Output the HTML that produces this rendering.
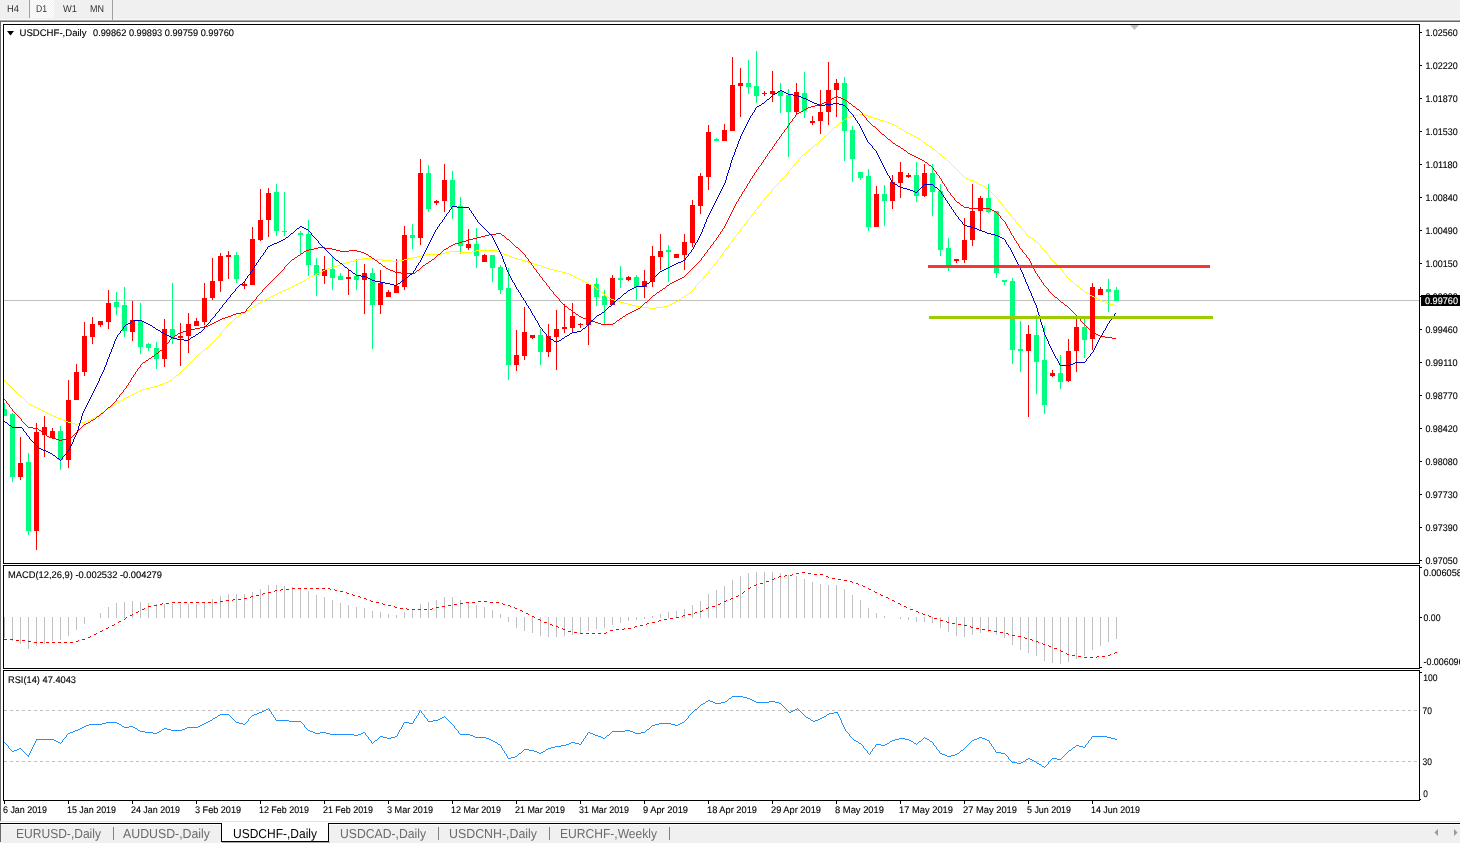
<!DOCTYPE html>
<html><head><meta charset="utf-8"><title>USDCHF-,Daily</title>
<style>
html,body{margin:0;padding:0;background:#fff;}
body{width:1460px;height:843px;overflow:hidden;position:relative;font-family:"Liberation Sans",sans-serif;}
svg{position:absolute;left:0;top:0;display:block}
text{font-family:"Liberation Sans",sans-serif;text-rendering:geometricPrecision;}
.ax{font-size:9.6px;fill:#000;stroke:#000;stroke-width:0.12px}
.tb{font-size:10px;fill:#333}
.tab{font-size:13px;fill:#6b6b6b}
.taba{font-size:13px;fill:#000}
</style></head><body>
<svg width="1460" height="843" viewBox="0 0 1460 843">

<rect x="0" y="0" width="1460" height="843" fill="#fff"/>
<rect x="0" y="0" width="1460" height="20" fill="#f0f0f0"/>
<rect x="0" y="19" width="1460" height="1" fill="#f8f8f8"/>
<rect x="0" y="20" width="1460" height="1" fill="#a8a8a8"/>
<rect x="0" y="21" width="1460" height="1" fill="#696969"/>
<rect x="0" y="21" width="1" height="800" fill="#696969"/>
<defs><pattern id="chk" width="2" height="2" patternUnits="userSpaceOnUse"><rect width="2" height="2" fill="#f0f0f0"/><rect width="1" height="1" fill="#fff"/><rect x="1" y="1" width="1" height="1" fill="#fff"/></pattern></defs>
<rect x="30" y="0" width="24" height="18" fill="url(#chk)" shape-rendering="crispEdges"/>
<rect x="29" y="0" width="1" height="18" fill="#a0a0a0"/>
<rect x="112" y="0" width="1" height="20" fill="#a0a0a0"/>
<text class="tb" x="7" y="12" textLength="12" lengthAdjust="spacingAndGlyphs">H4</text>
<text class="tb" x="36" y="12" textLength="11" lengthAdjust="spacingAndGlyphs">D1</text>
<text class="tb" x="63" y="12" textLength="14" lengthAdjust="spacingAndGlyphs">W1</text>
<text class="tb" x="90" y="12" textLength="14" lengthAdjust="spacingAndGlyphs">MN</text>
<g shape-rendering="crispEdges">
<rect x="3" y="24" width="1417" height="1" fill="#000"/>
<rect x="3" y="24" width="1" height="777" fill="#000"/>
<rect x="1419" y="24" width="1" height="777" fill="#000"/>
<rect x="3" y="563" width="1417" height="1" fill="#000"/>
<rect x="3" y="564" width="1417" height="1" fill="#fff"/>
<rect x="3" y="565" width="1417" height="1" fill="#000"/>
<rect x="3" y="668" width="1417" height="1" fill="#000"/>
<rect x="3" y="669" width="1417" height="1" fill="#fff"/>
<rect x="3" y="670" width="1417" height="1" fill="#000"/>
<rect x="3" y="800" width="1417" height="1" fill="#000"/>
<polygon points="1130,25 1139,25 1134.5,30" fill="#c0c0c0" shape-rendering="auto"/>
<polygon points="7,31 14,31 10.5,35.5" fill="#000" shape-rendering="auto"/>
<rect x="4" y="300" width="1415" height="1" fill="#c0c0c0"/>
<line x1="4" y1="710.5" x2="1419" y2="710.5" stroke="#c0c0c0" stroke-width="1" stroke-dasharray="3 3"/>
<line x1="4" y1="761.5" x2="1419" y2="761.5" stroke="#c0c0c0" stroke-width="1" stroke-dasharray="3 3"/>
<rect x="4" y="617" width="1" height="21" fill="#c0c0c0"/>
<rect x="12" y="617" width="1" height="24" fill="#c0c0c0"/>
<rect x="20" y="617" width="1" height="27" fill="#c0c0c0"/>
<rect x="28" y="617" width="1" height="32" fill="#c0c0c0"/>
<rect x="36" y="617" width="1" height="29" fill="#c0c0c0"/>
<rect x="44" y="617" width="1" height="27" fill="#c0c0c0"/>
<rect x="52" y="617" width="1" height="24" fill="#c0c0c0"/>
<rect x="60" y="617" width="1" height="23" fill="#c0c0c0"/>
<rect x="68" y="617" width="1" height="19" fill="#c0c0c0"/>
<rect x="76" y="617" width="1" height="13" fill="#c0c0c0"/>
<rect x="84" y="617" width="1" height="7" fill="#c0c0c0"/>
<rect x="100" y="613" width="1" height="5" fill="#c0c0c0"/>
<rect x="108" y="607" width="1" height="11" fill="#c0c0c0"/>
<rect x="116" y="603" width="1" height="15" fill="#c0c0c0"/>
<rect x="124" y="602" width="1" height="16" fill="#c0c0c0"/>
<rect x="132" y="601" width="1" height="17" fill="#c0c0c0"/>
<rect x="140" y="602" width="1" height="16" fill="#c0c0c0"/>
<rect x="148" y="603" width="1" height="15" fill="#c0c0c0"/>
<rect x="156" y="604" width="1" height="14" fill="#c0c0c0"/>
<rect x="164" y="604" width="1" height="14" fill="#c0c0c0"/>
<rect x="172" y="604" width="1" height="14" fill="#c0c0c0"/>
<rect x="180" y="604" width="1" height="14" fill="#c0c0c0"/>
<rect x="188" y="604" width="1" height="14" fill="#c0c0c0"/>
<rect x="196" y="604" width="1" height="14" fill="#c0c0c0"/>
<rect x="204" y="602" width="1" height="16" fill="#c0c0c0"/>
<rect x="212" y="599" width="1" height="19" fill="#c0c0c0"/>
<rect x="220" y="596" width="1" height="22" fill="#c0c0c0"/>
<rect x="228" y="594" width="1" height="24" fill="#c0c0c0"/>
<rect x="236" y="594" width="1" height="24" fill="#c0c0c0"/>
<rect x="244" y="594" width="1" height="24" fill="#c0c0c0"/>
<rect x="252" y="592" width="1" height="26" fill="#c0c0c0"/>
<rect x="260" y="589" width="1" height="29" fill="#c0c0c0"/>
<rect x="268" y="585" width="1" height="33" fill="#c0c0c0"/>
<rect x="276" y="585" width="1" height="33" fill="#c0c0c0"/>
<rect x="284" y="586" width="1" height="32" fill="#c0c0c0"/>
<rect x="292" y="587" width="1" height="31" fill="#c0c0c0"/>
<rect x="300" y="589" width="1" height="29" fill="#c0c0c0"/>
<rect x="308" y="591" width="1" height="27" fill="#c0c0c0"/>
<rect x="316" y="595" width="1" height="23" fill="#c0c0c0"/>
<rect x="324" y="597" width="1" height="21" fill="#c0c0c0"/>
<rect x="332" y="600" width="1" height="18" fill="#c0c0c0"/>
<rect x="340" y="603" width="1" height="15" fill="#c0c0c0"/>
<rect x="348" y="605" width="1" height="13" fill="#c0c0c0"/>
<rect x="356" y="607" width="1" height="11" fill="#c0c0c0"/>
<rect x="364" y="608" width="1" height="10" fill="#c0c0c0"/>
<rect x="372" y="611" width="1" height="7" fill="#c0c0c0"/>
<rect x="380" y="612" width="1" height="6" fill="#c0c0c0"/>
<rect x="388" y="614" width="1" height="4" fill="#c0c0c0"/>
<rect x="396" y="615" width="1" height="3" fill="#c0c0c0"/>
<rect x="404" y="612" width="1" height="6" fill="#c0c0c0"/>
<rect x="412" y="610" width="1" height="8" fill="#c0c0c0"/>
<rect x="420" y="604" width="1" height="14" fill="#c0c0c0"/>
<rect x="428" y="602" width="1" height="16" fill="#c0c0c0"/>
<rect x="436" y="600" width="1" height="18" fill="#c0c0c0"/>
<rect x="444" y="597" width="1" height="21" fill="#c0c0c0"/>
<rect x="452" y="597" width="1" height="21" fill="#c0c0c0"/>
<rect x="460" y="600" width="1" height="18" fill="#c0c0c0"/>
<rect x="468" y="603" width="1" height="15" fill="#c0c0c0"/>
<rect x="476" y="605" width="1" height="13" fill="#c0c0c0"/>
<rect x="484" y="607" width="1" height="11" fill="#c0c0c0"/>
<rect x="492" y="610" width="1" height="8" fill="#c0c0c0"/>
<rect x="500" y="614" width="1" height="4" fill="#c0c0c0"/>
<rect x="508" y="617" width="1" height="5" fill="#c0c0c0"/>
<rect x="516" y="617" width="1" height="11" fill="#c0c0c0"/>
<rect x="524" y="617" width="1" height="14" fill="#c0c0c0"/>
<rect x="532" y="617" width="1" height="16" fill="#c0c0c0"/>
<rect x="540" y="617" width="1" height="19" fill="#c0c0c0"/>
<rect x="548" y="617" width="1" height="20" fill="#c0c0c0"/>
<rect x="556" y="617" width="1" height="20" fill="#c0c0c0"/>
<rect x="564" y="617" width="1" height="19" fill="#c0c0c0"/>
<rect x="572" y="617" width="1" height="18" fill="#c0c0c0"/>
<rect x="580" y="617" width="1" height="16" fill="#c0c0c0"/>
<rect x="588" y="617" width="1" height="14" fill="#c0c0c0"/>
<rect x="596" y="617" width="1" height="12" fill="#c0c0c0"/>
<rect x="604" y="617" width="1" height="11" fill="#c0c0c0"/>
<rect x="612" y="617" width="1" height="8" fill="#c0c0c0"/>
<rect x="620" y="617" width="1" height="6" fill="#c0c0c0"/>
<rect x="628" y="617" width="1" height="4" fill="#c0c0c0"/>
<rect x="636" y="617" width="1" height="3" fill="#c0c0c0"/>
<rect x="644" y="617" width="1" height="2" fill="#c0c0c0"/>
<rect x="652" y="616" width="1" height="2" fill="#c0c0c0"/>
<rect x="660" y="614" width="1" height="4" fill="#c0c0c0"/>
<rect x="668" y="612" width="1" height="6" fill="#c0c0c0"/>
<rect x="676" y="611" width="1" height="7" fill="#c0c0c0"/>
<rect x="684" y="609" width="1" height="9" fill="#c0c0c0"/>
<rect x="692" y="605" width="1" height="13" fill="#c0c0c0"/>
<rect x="700" y="601" width="1" height="17" fill="#c0c0c0"/>
<rect x="708" y="594" width="1" height="24" fill="#c0c0c0"/>
<rect x="716" y="590" width="1" height="28" fill="#c0c0c0"/>
<rect x="724" y="586" width="1" height="32" fill="#c0c0c0"/>
<rect x="732" y="580" width="1" height="38" fill="#c0c0c0"/>
<rect x="740" y="576" width="1" height="42" fill="#c0c0c0"/>
<rect x="748" y="573" width="1" height="45" fill="#c0c0c0"/>
<rect x="756" y="572" width="1" height="46" fill="#c0c0c0"/>
<rect x="764" y="572" width="1" height="46" fill="#c0c0c0"/>
<rect x="772" y="572" width="1" height="46" fill="#c0c0c0"/>
<rect x="780" y="573" width="1" height="45" fill="#c0c0c0"/>
<rect x="788" y="575" width="1" height="43" fill="#c0c0c0"/>
<rect x="796" y="576" width="1" height="42" fill="#c0c0c0"/>
<rect x="804" y="579" width="1" height="39" fill="#c0c0c0"/>
<rect x="812" y="582" width="1" height="36" fill="#c0c0c0"/>
<rect x="820" y="584" width="1" height="34" fill="#c0c0c0"/>
<rect x="828" y="585" width="1" height="33" fill="#c0c0c0"/>
<rect x="836" y="585" width="1" height="33" fill="#c0c0c0"/>
<rect x="844" y="589" width="1" height="29" fill="#c0c0c0"/>
<rect x="852" y="595" width="1" height="23" fill="#c0c0c0"/>
<rect x="860" y="600" width="1" height="18" fill="#c0c0c0"/>
<rect x="868" y="608" width="1" height="10" fill="#c0c0c0"/>
<rect x="876" y="613" width="1" height="5" fill="#c0c0c0"/>
<rect x="884" y="616" width="1" height="2" fill="#c0c0c0"/>
<rect x="900" y="617" width="1" height="2" fill="#c0c0c0"/>
<rect x="908" y="617" width="1" height="3" fill="#c0c0c0"/>
<rect x="916" y="617" width="1" height="5" fill="#c0c0c0"/>
<rect x="924" y="617" width="1" height="5" fill="#c0c0c0"/>
<rect x="932" y="617" width="1" height="6" fill="#c0c0c0"/>
<rect x="940" y="617" width="1" height="11" fill="#c0c0c0"/>
<rect x="948" y="617" width="1" height="15" fill="#c0c0c0"/>
<rect x="956" y="617" width="1" height="19" fill="#c0c0c0"/>
<rect x="964" y="617" width="1" height="20" fill="#c0c0c0"/>
<rect x="972" y="617" width="1" height="18" fill="#c0c0c0"/>
<rect x="980" y="617" width="1" height="16" fill="#c0c0c0"/>
<rect x="988" y="617" width="1" height="15" fill="#c0c0c0"/>
<rect x="996" y="617" width="1" height="18" fill="#c0c0c0"/>
<rect x="1004" y="617" width="1" height="21" fill="#c0c0c0"/>
<rect x="1012" y="617" width="1" height="28" fill="#c0c0c0"/>
<rect x="1020" y="617" width="1" height="33" fill="#c0c0c0"/>
<rect x="1028" y="617" width="1" height="36" fill="#c0c0c0"/>
<rect x="1036" y="617" width="1" height="39" fill="#c0c0c0"/>
<rect x="1044" y="617" width="1" height="44" fill="#c0c0c0"/>
<rect x="1052" y="617" width="1" height="46" fill="#c0c0c0"/>
<rect x="1060" y="617" width="1" height="47" fill="#c0c0c0"/>
<rect x="1068" y="617" width="1" height="45" fill="#c0c0c0"/>
<rect x="1076" y="617" width="1" height="42" fill="#c0c0c0"/>
<rect x="1084" y="617" width="1" height="39" fill="#c0c0c0"/>
<rect x="1092" y="617" width="1" height="33" fill="#c0c0c0"/>
<rect x="1100" y="617" width="1" height="29" fill="#c0c0c0"/>
<rect x="1108" y="617" width="1" height="25" fill="#c0c0c0"/>
<rect x="1116" y="617" width="1" height="22" fill="#c0c0c0"/>
<rect x="4" y="403" width="1" height="13" fill="#00ff7f"/>
<rect x="4" y="409" width="3" height="7" fill="#00ff7f"/>
<rect x="12" y="413" width="1" height="69" fill="#00ff7f"/>
<rect x="10" y="414" width="5" height="63" fill="#00ff7f"/>
<rect x="20" y="437" width="1" height="43" fill="#ff0000"/>
<rect x="18" y="463" width="5" height="14" fill="#ff0000"/>
<rect x="28" y="453" width="1" height="82" fill="#00ff7f"/>
<rect x="26" y="462" width="5" height="69" fill="#00ff7f"/>
<rect x="36" y="423" width="1" height="127" fill="#ff0000"/>
<rect x="34" y="432" width="5" height="99" fill="#ff0000"/>
<rect x="44" y="416" width="1" height="41" fill="#ff0000"/>
<rect x="42" y="427" width="5" height="8" fill="#ff0000"/>
<rect x="52" y="428" width="1" height="10" fill="#ff0000"/>
<rect x="50" y="431" width="5" height="7" fill="#ff0000"/>
<rect x="60" y="426" width="1" height="44" fill="#00ff7f"/>
<rect x="58" y="431" width="5" height="29" fill="#00ff7f"/>
<rect x="68" y="380" width="1" height="88" fill="#ff0000"/>
<rect x="66" y="400" width="5" height="60" fill="#ff0000"/>
<rect x="76" y="364" width="1" height="36" fill="#ff0000"/>
<rect x="74" y="372" width="5" height="28" fill="#ff0000"/>
<rect x="84" y="322" width="1" height="54" fill="#ff0000"/>
<rect x="82" y="336" width="5" height="36" fill="#ff0000"/>
<rect x="92" y="317" width="1" height="27" fill="#ff0000"/>
<rect x="90" y="324" width="5" height="13" fill="#ff0000"/>
<rect x="100" y="321" width="1" height="6" fill="#ff0000"/>
<rect x="98" y="321" width="5" height="4" fill="#ff0000"/>
<rect x="108" y="290" width="1" height="39" fill="#ff0000"/>
<rect x="106" y="303" width="5" height="19" fill="#ff0000"/>
<rect x="116" y="292" width="1" height="23" fill="#00ff7f"/>
<rect x="114" y="302" width="5" height="5" fill="#00ff7f"/>
<rect x="124" y="287" width="1" height="50" fill="#00ff7f"/>
<rect x="122" y="305" width="5" height="26" fill="#00ff7f"/>
<rect x="132" y="301" width="1" height="40" fill="#ff0000"/>
<rect x="130" y="320" width="5" height="12" fill="#ff0000"/>
<rect x="140" y="303" width="1" height="51" fill="#00ff7f"/>
<rect x="138" y="321" width="5" height="26" fill="#00ff7f"/>
<rect x="148" y="343" width="1" height="8" fill="#00ff7f"/>
<rect x="146" y="344" width="5" height="4" fill="#00ff7f"/>
<rect x="156" y="342" width="1" height="27" fill="#00ff7f"/>
<rect x="154" y="348" width="5" height="11" fill="#00ff7f"/>
<rect x="164" y="319" width="1" height="48" fill="#ff0000"/>
<rect x="162" y="329" width="5" height="30" fill="#ff0000"/>
<rect x="172" y="283" width="1" height="61" fill="#00ff7f"/>
<rect x="170" y="329" width="5" height="9" fill="#00ff7f"/>
<rect x="180" y="323" width="1" height="43" fill="#ff0000"/>
<rect x="178" y="336" width="5" height="2" fill="#ff0000"/>
<rect x="188" y="313" width="1" height="40" fill="#ff0000"/>
<rect x="186" y="324" width="5" height="12" fill="#ff0000"/>
<rect x="196" y="318" width="1" height="8" fill="#ff0000"/>
<rect x="194" y="321" width="5" height="5" fill="#ff0000"/>
<rect x="204" y="283" width="1" height="42" fill="#ff0000"/>
<rect x="202" y="298" width="5" height="24" fill="#ff0000"/>
<rect x="212" y="258" width="1" height="42" fill="#ff0000"/>
<rect x="210" y="281" width="5" height="17" fill="#ff0000"/>
<rect x="220" y="253" width="1" height="39" fill="#ff0000"/>
<rect x="218" y="256" width="5" height="25" fill="#ff0000"/>
<rect x="228" y="251" width="1" height="28" fill="#ff0000"/>
<rect x="226" y="255" width="5" height="2" fill="#ff0000"/>
<rect x="236" y="252" width="1" height="31" fill="#00ff7f"/>
<rect x="234" y="255" width="5" height="24" fill="#00ff7f"/>
<rect x="244" y="282" width="1" height="7" fill="#ff0000"/>
<rect x="242" y="284" width="5" height="2" fill="#ff0000"/>
<rect x="252" y="227" width="1" height="58" fill="#ff0000"/>
<rect x="250" y="239" width="5" height="46" fill="#ff0000"/>
<rect x="260" y="189" width="1" height="52" fill="#ff0000"/>
<rect x="258" y="220" width="5" height="20" fill="#ff0000"/>
<rect x="268" y="188" width="1" height="49" fill="#ff0000"/>
<rect x="266" y="193" width="5" height="27" fill="#ff0000"/>
<rect x="276" y="184" width="1" height="52" fill="#00ff7f"/>
<rect x="274" y="192" width="5" height="39" fill="#00ff7f"/>
<rect x="284" y="192" width="1" height="44" fill="#00ff7f"/>
<rect x="282" y="231" width="5" height="1" fill="#00ff7f"/>
<rect x="300" y="231" width="1" height="23" fill="#00ff7f"/>
<rect x="298" y="233" width="5" height="2" fill="#00ff7f"/>
<rect x="308" y="220" width="1" height="56" fill="#00ff7f"/>
<rect x="306" y="234" width="5" height="31" fill="#00ff7f"/>
<rect x="316" y="258" width="1" height="38" fill="#00ff7f"/>
<rect x="314" y="265" width="5" height="10" fill="#00ff7f"/>
<rect x="324" y="256" width="1" height="28" fill="#ff0000"/>
<rect x="322" y="269" width="5" height="7" fill="#ff0000"/>
<rect x="332" y="256" width="1" height="34" fill="#00ff7f"/>
<rect x="330" y="269" width="5" height="9" fill="#00ff7f"/>
<rect x="340" y="273" width="1" height="7" fill="#00ff7f"/>
<rect x="338" y="276" width="5" height="4" fill="#00ff7f"/>
<rect x="348" y="269" width="1" height="26" fill="#ff0000"/>
<rect x="346" y="277" width="5" height="2" fill="#ff0000"/>
<rect x="356" y="259" width="1" height="31" fill="#00ff7f"/>
<rect x="354" y="276" width="5" height="4" fill="#00ff7f"/>
<rect x="364" y="264" width="1" height="50" fill="#ff0000"/>
<rect x="362" y="273" width="5" height="7" fill="#ff0000"/>
<rect x="372" y="268" width="1" height="81" fill="#00ff7f"/>
<rect x="370" y="273" width="5" height="32" fill="#00ff7f"/>
<rect x="380" y="270" width="1" height="44" fill="#ff0000"/>
<rect x="378" y="283" width="5" height="22" fill="#ff0000"/>
<rect x="388" y="290" width="1" height="7" fill="#ff0000"/>
<rect x="386" y="292" width="5" height="5" fill="#ff0000"/>
<rect x="396" y="259" width="1" height="34" fill="#ff0000"/>
<rect x="394" y="286" width="5" height="7" fill="#ff0000"/>
<rect x="404" y="226" width="1" height="64" fill="#ff0000"/>
<rect x="402" y="235" width="5" height="52" fill="#ff0000"/>
<rect x="412" y="224" width="1" height="25" fill="#00ff7f"/>
<rect x="410" y="235" width="5" height="3" fill="#00ff7f"/>
<rect x="420" y="159" width="1" height="86" fill="#ff0000"/>
<rect x="418" y="173" width="5" height="65" fill="#ff0000"/>
<rect x="428" y="165" width="1" height="47" fill="#00ff7f"/>
<rect x="426" y="173" width="5" height="36" fill="#00ff7f"/>
<rect x="436" y="200" width="1" height="5" fill="#ff0000"/>
<rect x="434" y="201" width="5" height="2" fill="#ff0000"/>
<rect x="444" y="164" width="1" height="48" fill="#ff0000"/>
<rect x="442" y="180" width="5" height="21" fill="#ff0000"/>
<rect x="452" y="171" width="1" height="48" fill="#00ff7f"/>
<rect x="450" y="180" width="5" height="27" fill="#00ff7f"/>
<rect x="460" y="197" width="1" height="57" fill="#00ff7f"/>
<rect x="458" y="206" width="5" height="40" fill="#00ff7f"/>
<rect x="468" y="229" width="1" height="21" fill="#ff0000"/>
<rect x="466" y="244" width="5" height="4" fill="#ff0000"/>
<rect x="476" y="228" width="1" height="40" fill="#00ff7f"/>
<rect x="474" y="244" width="5" height="12" fill="#00ff7f"/>
<rect x="484" y="254" width="1" height="8" fill="#ff0000"/>
<rect x="482" y="255" width="5" height="7" fill="#ff0000"/>
<rect x="492" y="255" width="1" height="27" fill="#00ff7f"/>
<rect x="490" y="255" width="5" height="13" fill="#00ff7f"/>
<rect x="500" y="265" width="1" height="29" fill="#00ff7f"/>
<rect x="498" y="267" width="5" height="23" fill="#00ff7f"/>
<rect x="508" y="268" width="1" height="112" fill="#00ff7f"/>
<rect x="506" y="288" width="5" height="77" fill="#00ff7f"/>
<rect x="516" y="330" width="1" height="41" fill="#ff0000"/>
<rect x="514" y="355" width="5" height="10" fill="#ff0000"/>
<rect x="524" y="307" width="1" height="53" fill="#ff0000"/>
<rect x="522" y="332" width="5" height="24" fill="#ff0000"/>
<rect x="532" y="335" width="1" height="4" fill="#ff0000"/>
<rect x="530" y="335" width="5" height="3" fill="#ff0000"/>
<rect x="540" y="329" width="1" height="36" fill="#00ff7f"/>
<rect x="538" y="335" width="5" height="17" fill="#00ff7f"/>
<rect x="548" y="324" width="1" height="33" fill="#ff0000"/>
<rect x="546" y="336" width="5" height="16" fill="#ff0000"/>
<rect x="556" y="310" width="1" height="60" fill="#ff0000"/>
<rect x="554" y="329" width="5" height="8" fill="#ff0000"/>
<rect x="564" y="304" width="1" height="29" fill="#ff0000"/>
<rect x="562" y="327" width="5" height="2" fill="#ff0000"/>
<rect x="572" y="303" width="1" height="29" fill="#ff0000"/>
<rect x="570" y="316" width="5" height="12" fill="#ff0000"/>
<rect x="580" y="323" width="1" height="5" fill="#ff0000"/>
<rect x="578" y="324" width="5" height="1" fill="#ff0000"/>
<rect x="588" y="283" width="1" height="62" fill="#ff0000"/>
<rect x="586" y="284" width="5" height="41" fill="#ff0000"/>
<rect x="596" y="278" width="1" height="28" fill="#00ff7f"/>
<rect x="594" y="284" width="5" height="13" fill="#00ff7f"/>
<rect x="604" y="290" width="1" height="34" fill="#00ff7f"/>
<rect x="602" y="296" width="5" height="9" fill="#00ff7f"/>
<rect x="612" y="275" width="1" height="30" fill="#ff0000"/>
<rect x="610" y="278" width="5" height="27" fill="#ff0000"/>
<rect x="620" y="266" width="1" height="22" fill="#00ff7f"/>
<rect x="618" y="278" width="5" height="2" fill="#00ff7f"/>
<rect x="628" y="276" width="1" height="5" fill="#ff0000"/>
<rect x="626" y="277" width="5" height="3" fill="#ff0000"/>
<rect x="636" y="275" width="1" height="25" fill="#00ff7f"/>
<rect x="634" y="277" width="5" height="10" fill="#00ff7f"/>
<rect x="644" y="270" width="1" height="28" fill="#ff0000"/>
<rect x="642" y="281" width="5" height="6" fill="#ff0000"/>
<rect x="652" y="246" width="1" height="41" fill="#ff0000"/>
<rect x="650" y="256" width="5" height="26" fill="#ff0000"/>
<rect x="660" y="234" width="1" height="36" fill="#ff0000"/>
<rect x="658" y="251" width="5" height="6" fill="#ff0000"/>
<rect x="668" y="245" width="1" height="37" fill="#00ff7f"/>
<rect x="666" y="250" width="5" height="2" fill="#00ff7f"/>
<rect x="676" y="254" width="1" height="4" fill="#ff0000"/>
<rect x="674" y="254" width="5" height="4" fill="#ff0000"/>
<rect x="684" y="234" width="1" height="36" fill="#ff0000"/>
<rect x="682" y="242" width="5" height="13" fill="#ff0000"/>
<rect x="692" y="200" width="1" height="47" fill="#ff0000"/>
<rect x="690" y="205" width="5" height="38" fill="#ff0000"/>
<rect x="700" y="173" width="1" height="41" fill="#ff0000"/>
<rect x="698" y="176" width="5" height="30" fill="#ff0000"/>
<rect x="708" y="125" width="1" height="65" fill="#ff0000"/>
<rect x="706" y="132" width="5" height="45" fill="#ff0000"/>
<rect x="716" y="138" width="1" height="3" fill="#00ff7f"/>
<rect x="714" y="139" width="5" height="2" fill="#00ff7f"/>
<rect x="724" y="124" width="1" height="17" fill="#ff0000"/>
<rect x="722" y="130" width="5" height="11" fill="#ff0000"/>
<rect x="732" y="57" width="1" height="74" fill="#ff0000"/>
<rect x="730" y="85" width="5" height="46" fill="#ff0000"/>
<rect x="740" y="68" width="1" height="49" fill="#ff0000"/>
<rect x="738" y="83" width="5" height="3" fill="#ff0000"/>
<rect x="748" y="60" width="1" height="34" fill="#00ff7f"/>
<rect x="746" y="83" width="5" height="4" fill="#00ff7f"/>
<rect x="756" y="51" width="1" height="52" fill="#00ff7f"/>
<rect x="754" y="86" width="5" height="10" fill="#00ff7f"/>
<rect x="764" y="91" width="1" height="5" fill="#ff0000"/>
<rect x="762" y="93" width="5" height="1" fill="#ff0000"/>
<rect x="772" y="71" width="1" height="31" fill="#ff0000"/>
<rect x="770" y="91" width="5" height="3" fill="#ff0000"/>
<rect x="780" y="83" width="1" height="30" fill="#00ff7f"/>
<rect x="778" y="91" width="5" height="5" fill="#00ff7f"/>
<rect x="788" y="89" width="1" height="68" fill="#00ff7f"/>
<rect x="786" y="95" width="5" height="17" fill="#00ff7f"/>
<rect x="796" y="83" width="1" height="31" fill="#ff0000"/>
<rect x="794" y="92" width="5" height="20" fill="#ff0000"/>
<rect x="804" y="72" width="1" height="46" fill="#00ff7f"/>
<rect x="802" y="93" width="5" height="18" fill="#00ff7f"/>
<rect x="812" y="116" width="1" height="9" fill="#ff0000"/>
<rect x="810" y="121" width="5" height="2" fill="#ff0000"/>
<rect x="820" y="90" width="1" height="44" fill="#ff0000"/>
<rect x="818" y="112" width="5" height="9" fill="#ff0000"/>
<rect x="828" y="62" width="1" height="63" fill="#ff0000"/>
<rect x="826" y="90" width="5" height="22" fill="#ff0000"/>
<rect x="836" y="79" width="1" height="38" fill="#ff0000"/>
<rect x="834" y="83" width="5" height="7" fill="#ff0000"/>
<rect x="844" y="77" width="1" height="84" fill="#00ff7f"/>
<rect x="842" y="83" width="5" height="48" fill="#00ff7f"/>
<rect x="852" y="126" width="1" height="56" fill="#00ff7f"/>
<rect x="850" y="130" width="5" height="29" fill="#00ff7f"/>
<rect x="860" y="172" width="1" height="8" fill="#00ff7f"/>
<rect x="858" y="172" width="5" height="6" fill="#00ff7f"/>
<rect x="868" y="169" width="1" height="62" fill="#00ff7f"/>
<rect x="866" y="176" width="5" height="51" fill="#00ff7f"/>
<rect x="876" y="186" width="1" height="41" fill="#ff0000"/>
<rect x="874" y="194" width="5" height="33" fill="#ff0000"/>
<rect x="884" y="185" width="1" height="41" fill="#00ff7f"/>
<rect x="882" y="194" width="5" height="7" fill="#00ff7f"/>
<rect x="892" y="175" width="1" height="34" fill="#ff0000"/>
<rect x="890" y="182" width="5" height="19" fill="#ff0000"/>
<rect x="900" y="162" width="1" height="36" fill="#ff0000"/>
<rect x="898" y="172" width="5" height="11" fill="#ff0000"/>
<rect x="908" y="173" width="1" height="5" fill="#ff0000"/>
<rect x="906" y="175" width="5" height="2" fill="#ff0000"/>
<rect x="916" y="162" width="1" height="40" fill="#00ff7f"/>
<rect x="914" y="175" width="5" height="21" fill="#00ff7f"/>
<rect x="924" y="164" width="1" height="33" fill="#ff0000"/>
<rect x="922" y="173" width="5" height="23" fill="#ff0000"/>
<rect x="932" y="164" width="1" height="52" fill="#00ff7f"/>
<rect x="930" y="173" width="5" height="19" fill="#00ff7f"/>
<rect x="940" y="184" width="1" height="72" fill="#00ff7f"/>
<rect x="938" y="191" width="5" height="59" fill="#00ff7f"/>
<rect x="948" y="238" width="1" height="33" fill="#00ff7f"/>
<rect x="946" y="248" width="5" height="18" fill="#00ff7f"/>
<rect x="956" y="259" width="1" height="4" fill="#ff0000"/>
<rect x="954" y="259" width="5" height="2" fill="#ff0000"/>
<rect x="964" y="218" width="1" height="45" fill="#ff0000"/>
<rect x="962" y="240" width="5" height="20" fill="#ff0000"/>
<rect x="972" y="184" width="1" height="62" fill="#ff0000"/>
<rect x="970" y="211" width="5" height="29" fill="#ff0000"/>
<rect x="980" y="196" width="1" height="34" fill="#ff0000"/>
<rect x="978" y="198" width="5" height="13" fill="#ff0000"/>
<rect x="988" y="184" width="1" height="29" fill="#00ff7f"/>
<rect x="986" y="198" width="5" height="14" fill="#00ff7f"/>
<rect x="996" y="211" width="1" height="67" fill="#00ff7f"/>
<rect x="994" y="211" width="5" height="62" fill="#00ff7f"/>
<rect x="1004" y="280" width="1" height="5" fill="#00ff7f"/>
<rect x="1002" y="280" width="5" height="2" fill="#00ff7f"/>
<rect x="1012" y="278" width="1" height="86" fill="#00ff7f"/>
<rect x="1010" y="281" width="5" height="69" fill="#00ff7f"/>
<rect x="1020" y="321" width="1" height="51" fill="#00ff7f"/>
<rect x="1018" y="349" width="5" height="2" fill="#00ff7f"/>
<rect x="1028" y="325" width="1" height="92" fill="#ff0000"/>
<rect x="1026" y="334" width="5" height="17" fill="#ff0000"/>
<rect x="1036" y="315" width="1" height="79" fill="#00ff7f"/>
<rect x="1034" y="335" width="5" height="27" fill="#00ff7f"/>
<rect x="1044" y="326" width="1" height="88" fill="#00ff7f"/>
<rect x="1042" y="360" width="5" height="45" fill="#00ff7f"/>
<rect x="1052" y="370" width="1" height="7" fill="#ff0000"/>
<rect x="1050" y="373" width="5" height="3" fill="#ff0000"/>
<rect x="1060" y="355" width="1" height="34" fill="#00ff7f"/>
<rect x="1058" y="373" width="5" height="9" fill="#00ff7f"/>
<rect x="1068" y="339" width="1" height="43" fill="#ff0000"/>
<rect x="1066" y="351" width="5" height="30" fill="#ff0000"/>
<rect x="1076" y="319" width="1" height="53" fill="#ff0000"/>
<rect x="1074" y="327" width="5" height="24" fill="#ff0000"/>
<rect x="1084" y="319" width="1" height="39" fill="#00ff7f"/>
<rect x="1082" y="327" width="5" height="13" fill="#00ff7f"/>
<rect x="1092" y="283" width="1" height="67" fill="#ff0000"/>
<rect x="1090" y="287" width="5" height="52" fill="#ff0000"/>
<rect x="1100" y="287" width="1" height="8" fill="#ff0000"/>
<rect x="1098" y="289" width="5" height="6" fill="#ff0000"/>
<rect x="1108" y="279" width="1" height="33" fill="#00ff7f"/>
<rect x="1106" y="289" width="5" height="3" fill="#00ff7f"/>
<rect x="1116" y="287" width="1" height="14" fill="#00ff7f"/>
<rect x="1114" y="290" width="5" height="11" fill="#00ff7f"/>
<path d="M859 114.5h6M852 115.5h7M865 115.5h3M850 116.5h2M868 116.5h3M848 117.5h2M871 117.5h3M846 118.5h2M874 118.5h3M844 119.5h2M877 119.5h3M843 120.5h1M880 120.5h4M842 121.5h1M884 121.5h3M840 122.5h2M887 122.5h3M839 123.5h1M890 123.5h2M838 124.5h1M892 124.5h2M837 125.5h1M894 125.5h2M836 126.5h1M896 126.5h2M834 127.5h2M898 127.5h1M833 128.5h1M899 128.5h2M832 129.5h1M901 129.5h2M831 130.5h1M903 130.5h1M830 131.5h1M904 131.5h2M829 132.5h1M906 132.5h2M828 133.5h1M908 133.5h2M827 134.5h1M910 134.5h2M826 135.5h1M912 135.5h2M824 136.5h2M914 136.5h2M823 137.5h1M916 137.5h2M822 138.5h1M918 138.5h1M821 139.5h1M919 139.5h2M820 140.5h1M921 140.5h1M819 141.5h1M922 141.5h1M818 142.5h1M923 142.5h2M817 143.5h1M925 143.5h1M815 144.5h2M926 144.5h2M814 145.5h1M928 145.5h1M813 146.5h1M929 146.5h2M812 147.5h1M931 147.5h1M811 148.5h1M932 148.5h1M809 149.5h2M933 149.5h2M808 150.5h1M935 150.5h1M807 151.5h1M936 151.5h1M806 152.5h1M937 152.5h1M805 153.5h1M938 153.5h2M803 154.5h2M940 154.5h1M802 155.5h1M941 155.5h1M801 156.5h1M942 156.5h1M800 157.5h1M943 157.5h1M799 158.5h1M944 158.5h2M798 159.5h1M946 159.5h1M798 160.5h1M947 160.5h1M797 161.5h1M948 161.5h1M796 162.5h1M949 162.5h1M795 163.5h1M950 163.5h1M794 164.5h1M951 164.5h1M793 165.5h1M952 165.5h1M793 166.5h1M953 166.5h1M792 167.5h1M954 167.5h1M791 168.5h1M955 168.5h1M790 169.5h1M956 169.5h1M789 170.5h1M957 170.5h1M788 171.5h1M958 171.5h1M788 172.5h1M959 172.5h1M787 173.5h1M960 173.5h1M786 174.5h1M961 174.5h1M785 175.5h1M962 175.5h1M784 176.5h1M963 176.5h1M783 177.5h1M964 177.5h2M782 178.5h1M966 178.5h2M781 179.5h1M968 179.5h2M780 180.5h1M970 180.5h3M780 181.5h1M973 181.5h2M779 182.5h1M975 182.5h2M778 183.5h1M977 183.5h2M777 184.5h1M979 184.5h2M776 185.5h1M981 185.5h2M775 186.5h1M983 186.5h2M774 187.5h1M985 187.5h1M773 188.5h1M986 188.5h2M772 189.5h1M988 189.5h1M771 190.5h1M989 190.5h1M771 191.5h1M990 191.5h1M770 192.5h1M991 192.5h1M769 193.5h1M992 193.5h1M768 194.5h1M993 194.5h1M767 195.5h1M994 195.5h1M766 196.5h1M995 196.5h1M765 197.5h1M996 197.5h1M764 198.5h1M997 198.5h1M764 199.5h1M998 199.5h1M763 200.5h1M998 200.5h1M762 201.5h1M999 201.5h1M761 202.5h1M1000 202.5h1M761 203.5h1M1001 203.5h1M760 204.5h1M1002 204.5h1M759 205.5h1M1002 205.5h1M758 206.5h1M1003 206.5h1M757 207.5h1M1004 207.5h1M757 208.5h1M1005 208.5h1M756 209.5h1M1006 209.5h1M755 210.5h1M1006 210.5h1M754 211.5h1M1007 211.5h1M754 212.5h1M1008 212.5h1M753 213.5h1M1009 213.5h1M752 214.5h1M1010 214.5h1M751 215.5h1M1010 215.5h1M751 216.5h1M1011 216.5h1M750 217.5h1M1012 217.5h1M749 218.5h1M1013 218.5h1M748 219.5h1M1014 219.5h1M747 220.5h1M1015 220.5h1M747 221.5h1M1015 221.5h1M746 222.5h1M1016 222.5h1M745 223.5h1M1017 223.5h1M744 224.5h1M1018 224.5h1M744 225.5h1M1019 225.5h1M743 226.5h1M1020 226.5h1M742 227.5h1M1020 227.5h1M741 228.5h1M1021 228.5h1M740 229.5h1M1022 229.5h1M740 230.5h1M1023 230.5h1M739 231.5h1M1024 231.5h1M738 232.5h1M1025 232.5h1M737 233.5h1M1025 233.5h1M737 234.5h1M1026 234.5h1M736 235.5h1M1027 235.5h1M735 236.5h1M1028 236.5h1M734 237.5h1M1029 237.5h2M734 238.5h1M1031 238.5h2M733 239.5h1M1033 239.5h1M732 240.5h1M1034 240.5h2M731 241.5h1M1036 241.5h1M731 242.5h1M1037 242.5h1M730 243.5h1M1038 243.5h1M729 244.5h1M1039 244.5h1M728 245.5h1M1040 245.5h1M728 246.5h1M1040 246.5h1M727 247.5h1M1041 247.5h1M726 248.5h1M1042 248.5h1M725 249.5h1M1043 249.5h1M476 250.5h21M725 250.5h1M1044 250.5h1M449 251.5h11M472 251.5h4M497 251.5h2M724 251.5h1M1045 251.5h1M445 252.5h4M460 252.5h12M499 252.5h3M723 252.5h1M1046 252.5h1M441 253.5h4M502 253.5h2M723 253.5h1M1046 253.5h1M425 254.5h16M504 254.5h3M722 254.5h1M1047 254.5h1M421 255.5h4M507 255.5h2M721 255.5h1M1048 255.5h1M417 256.5h4M509 256.5h3M720 256.5h1M1049 256.5h1M413 257.5h4M512 257.5h3M720 257.5h1M1050 257.5h1M362 258.5h9M408 258.5h5M515 258.5h3M719 258.5h1M1050 258.5h1M358 259.5h4M371 259.5h11M404 259.5h4M518 259.5h4M718 259.5h1M1051 259.5h1M354 260.5h4M382 260.5h10M399 260.5h5M522 260.5h3M717 260.5h1M1052 260.5h1M350 261.5h4M392 261.5h7M525 261.5h3M717 261.5h1M1053 261.5h1M346 262.5h4M528 262.5h3M716 262.5h1M1054 262.5h1M343 263.5h3M531 263.5h3M715 263.5h1M1055 263.5h1M340 264.5h3M534 264.5h3M714 264.5h1M1056 264.5h1M337 265.5h3M537 265.5h4M713 265.5h1M1057 265.5h1M333 266.5h4M541 266.5h3M713 266.5h1M1058 266.5h1M330 267.5h3M544 267.5h3M712 267.5h1M1059 267.5h1M327 268.5h3M547 268.5h3M711 268.5h1M1060 268.5h1M325 269.5h2M550 269.5h4M710 269.5h1M1061 269.5h1M323 270.5h2M554 270.5h4M709 270.5h1M1062 270.5h1M321 271.5h2M558 271.5h4M708 271.5h1M1062 271.5h1M319 272.5h2M562 272.5h4M708 272.5h1M1063 272.5h1M317 273.5h2M566 273.5h3M707 273.5h1M1064 273.5h1M315 274.5h2M569 274.5h2M706 274.5h1M1065 274.5h1M313 275.5h2M571 275.5h2M705 275.5h1M1066 275.5h1M311 276.5h2M573 276.5h2M704 276.5h1M1066 276.5h1M309 277.5h2M575 277.5h2M703 277.5h1M1067 277.5h1M307 278.5h2M577 278.5h2M703 278.5h1M1068 278.5h1M306 279.5h1M579 279.5h2M702 279.5h1M1069 279.5h1M304 280.5h2M581 280.5h2M701 280.5h1M1070 280.5h1M302 281.5h2M583 281.5h2M700 281.5h1M1071 281.5h2M300 282.5h2M585 282.5h2M699 282.5h1M1073 282.5h1M298 283.5h2M587 283.5h2M698 283.5h1M1074 283.5h1M296 284.5h2M589 284.5h2M697 284.5h1M1075 284.5h1M294 285.5h2M591 285.5h2M696 285.5h1M1076 285.5h1M292 286.5h2M593 286.5h2M695 286.5h1M1077 286.5h2M290 287.5h2M595 287.5h1M695 287.5h1M1079 287.5h1M288 288.5h2M596 288.5h1M694 288.5h1M1080 288.5h1M286 289.5h2M597 289.5h2M693 289.5h1M1081 289.5h2M283 290.5h3M599 290.5h1M692 290.5h1M1083 290.5h1M281 291.5h2M600 291.5h1M691 291.5h1M1084 291.5h1M279 292.5h2M601 292.5h2M690 292.5h1M1085 292.5h2M277 293.5h2M603 293.5h1M688 293.5h2M1087 293.5h2M275 294.5h2M604 294.5h1M687 294.5h1M1089 294.5h1M273 295.5h2M605 295.5h1M685 295.5h2M1090 295.5h2M271 296.5h2M606 296.5h2M684 296.5h1M1092 296.5h2M269 297.5h2M608 297.5h1M682 297.5h2M1094 297.5h2M267 298.5h2M609 298.5h2M681 298.5h1M1096 298.5h2M265 299.5h2M611 299.5h3M679 299.5h2M1098 299.5h2M263 300.5h2M614 300.5h3M678 300.5h1M1100 300.5h2M262 301.5h1M617 301.5h3M676 301.5h2M1102 301.5h3M260 302.5h2M620 302.5h4M674 302.5h2M1105 302.5h2M258 303.5h2M624 303.5h4M672 303.5h2M1107 303.5h3M257 304.5h1M628 304.5h4M670 304.5h2M1110 304.5h4M255 305.5h2M632 305.5h4M668 305.5h2M1114 305.5h2M254 306.5h1M636 306.5h5M663 306.5h5M252 307.5h2M641 307.5h8M656 307.5h7M250 308.5h2M649 308.5h7M249 309.5h1M247 310.5h2M246 311.5h1M244 312.5h2M242 313.5h2M240 314.5h2M239 315.5h1M238 316.5h1M236 317.5h2M235 318.5h1M234 319.5h1M233 320.5h1M232 321.5h1M230 322.5h2M229 323.5h1M228 324.5h1M227 325.5h1M226 326.5h1M225 327.5h1M225 328.5h1M224 329.5h1M223 330.5h1M222 331.5h1M221 332.5h1M220 333.5h1M220 334.5h1M219 335.5h1M218 336.5h1M217 337.5h1M216 338.5h1M215 339.5h1M214 340.5h1M213 341.5h1M212 342.5h1M211 343.5h1M210 344.5h1M209 345.5h1M208 346.5h1M207 347.5h1M205 348.5h2M204 349.5h1M203 350.5h1M202 351.5h1M201 352.5h1M199 353.5h2M198 354.5h1M197 355.5h1M196 356.5h1M195 357.5h1M194 358.5h1M193 359.5h1M192 360.5h1M191 361.5h1M190 362.5h1M189 363.5h1M188 364.5h1M187 365.5h1M186 366.5h1M185 367.5h1M184 368.5h1M183 369.5h1M182 370.5h1M181 371.5h1M180 372.5h1M179 373.5h1M178 374.5h1M176 375.5h2M175 376.5h1M174 377.5h1M173 378.5h1M172 379.5h1M4 380.5h1M170 380.5h2M5 381.5h1M168 381.5h2M6 382.5h1M165 382.5h3M7 383.5h1M163 383.5h2M8 384.5h1M160 384.5h3M9 385.5h1M158 385.5h2M10 386.5h1M154 386.5h4M11 387.5h1M150 387.5h4M12 388.5h1M145 388.5h5M13 389.5h1M142 389.5h3M14 390.5h1M140 390.5h2M15 391.5h1M138 391.5h2M16 392.5h1M136 392.5h2M17 393.5h1M134 393.5h2M18 394.5h1M132 394.5h2M19 395.5h1M130 395.5h2M20 396.5h2M128 396.5h2M22 397.5h1M126 397.5h2M23 398.5h1M124 398.5h2M24 399.5h1M123 399.5h1M25 400.5h1M121 400.5h2M26 401.5h1M119 401.5h2M27 402.5h1M117 402.5h2M28 403.5h1M116 403.5h1M29 404.5h2M114 404.5h2M31 405.5h2M112 405.5h2M33 406.5h2M111 406.5h1M35 407.5h2M109 407.5h2M37 408.5h2M108 408.5h1M39 409.5h2M106 409.5h2M41 410.5h2M105 410.5h1M43 411.5h2M104 411.5h1M45 412.5h2M102 412.5h2M47 413.5h2M101 413.5h1M49 414.5h2M99 414.5h2M51 415.5h2M98 415.5h1M53 416.5h3M96 416.5h2M56 417.5h2M94 417.5h2M58 418.5h3M92 418.5h2M61 419.5h2M90 419.5h2M63 420.5h2M87 420.5h3M65 421.5h3M85 421.5h2M68 422.5h4M82 422.5h3M72 423.5h3M78 423.5h4M75 424.5h3" fill="none" stroke="#ffff00" stroke-width="1"/>
<path d="M836 96.5h2M834 97.5h2M838 97.5h3M832 98.5h2M841 98.5h2M830 99.5h2M843 99.5h2M828 100.5h2M845 100.5h2M826 101.5h2M847 101.5h1M824 102.5h2M848 102.5h1M822 103.5h2M849 103.5h2M819 104.5h3M851 104.5h1M815 105.5h4M852 105.5h1M811 106.5h4M853 106.5h2M808 107.5h3M855 107.5h1M806 108.5h2M856 108.5h1M804 109.5h2M857 109.5h2M803 110.5h1M859 110.5h1M801 111.5h2M860 111.5h1M799 112.5h2M861 112.5h1M797 113.5h2M862 113.5h1M796 114.5h1M862 114.5h1M795 115.5h1M863 115.5h1M795 116.5h1M864 116.5h1M794 117.5h1M865 117.5h1M793 118.5h1M866 118.5h1M792 119.5h1M866 119.5h1M792 120.5h1M867 120.5h1M791 121.5h1M868 121.5h1M790 122.5h1M869 122.5h1M789 123.5h1M870 123.5h1M789 124.5h1M871 124.5h1M788 125.5h1M872 125.5h1M787 126.5h1M873 126.5h2M787 127.5h1M875 127.5h1M786 128.5h1M876 128.5h1M785 129.5h1M877 129.5h1M784 130.5h1M878 130.5h1M784 131.5h1M879 131.5h1M783 132.5h1M880 132.5h1M782 133.5h1M881 133.5h1M781 134.5h1M882 134.5h2M781 135.5h1M884 135.5h1M780 136.5h1M885 136.5h1M779 137.5h1M886 137.5h1M779 138.5h1M887 138.5h1M778 139.5h1M888 139.5h2M777 140.5h1M890 140.5h1M776 141.5h1M891 141.5h1M776 142.5h1M892 142.5h1M775 143.5h1M893 143.5h2M774 144.5h1M895 144.5h1M774 145.5h1M896 145.5h2M773 146.5h1M898 146.5h2M772 147.5h1M900 147.5h1M772 148.5h1M901 148.5h2M771 149.5h1M903 149.5h1M770 150.5h1M904 150.5h2M769 151.5h1M906 151.5h1M769 152.5h1M907 152.5h1M768 153.5h1M908 153.5h2M767 154.5h1M910 154.5h2M767 155.5h1M912 155.5h2M766 156.5h1M914 156.5h2M765 157.5h1M916 157.5h2M765 158.5h1M918 158.5h2M764 159.5h1M920 159.5h2M763 160.5h1M922 160.5h2M763 161.5h1M924 161.5h1M762 162.5h1M925 162.5h2M761 163.5h1M927 163.5h1M761 164.5h1M928 164.5h1M760 165.5h1M929 165.5h2M759 166.5h1M931 166.5h1M758 167.5h1M932 167.5h1M758 168.5h1M933 168.5h1M757 169.5h1M933 169.5h1M756 170.5h1M934 170.5h1M756 171.5h1M935 171.5h1M755 172.5h1M936 172.5h1M754 173.5h1M936 173.5h1M754 174.5h1M937 174.5h1M753 175.5h1M938 175.5h1M752 176.5h1M939 176.5h1M752 177.5h1M939 177.5h1M751 178.5h1M940 178.5h1M750 179.5h1M941 179.5h1M750 180.5h1M941 180.5h1M749 181.5h1M942 181.5h1M749 182.5h1M942 182.5h1M748 183.5h1M943 183.5h1M747 184.5h1M944 184.5h1M747 185.5h1M944 185.5h1M746 186.5h1M945 186.5h1M746 187.5h1M946 187.5h1M745 188.5h1M946 188.5h1M744 189.5h1M947 189.5h1M744 190.5h1M947 190.5h1M743 191.5h1M948 191.5h1M742 192.5h1M949 192.5h1M742 193.5h1M950 193.5h1M741 194.5h1M950 194.5h1M741 195.5h1M951 195.5h1M740 196.5h1M952 196.5h1M739 197.5h1M953 197.5h1M739 198.5h1M954 198.5h1M738 199.5h1M954 199.5h1M738 200.5h1M955 200.5h1M737 201.5h1M956 201.5h1M736 202.5h1M957 202.5h2M736 203.5h1M959 203.5h1M735 204.5h1M960 204.5h1M735 205.5h1M961 205.5h2M734 206.5h1M963 206.5h1M734 207.5h1M964 207.5h5M733 208.5h1M969 208.5h21M733 209.5h1M990 209.5h2M732 210.5h1M992 210.5h2M732 211.5h1M994 211.5h2M731 212.5h1M996 212.5h1M731 213.5h1M997 213.5h1M730 214.5h1M998 214.5h1M730 215.5h1M999 215.5h1M729 216.5h1M1000 216.5h1M729 217.5h1M1000 217.5h1M728 218.5h1M1001 218.5h1M728 219.5h1M1002 219.5h1M727 220.5h1M1003 220.5h1M727 221.5h1M1004 221.5h1M726 222.5h1M1005 222.5h1M726 223.5h1M1005 223.5h1M725 224.5h1M1006 224.5h1M725 225.5h1M1006 225.5h1M724 226.5h1M1007 226.5h1M724 227.5h1M1007 227.5h1M723 228.5h1M1008 228.5h1M722 229.5h1M1009 229.5h1M722 230.5h1M1009 230.5h1M721 231.5h1M1010 231.5h1M720 232.5h1M1010 232.5h1M496 233.5h5M720 233.5h1M1011 233.5h1M489 234.5h7M501 234.5h1M719 234.5h1M1011 234.5h1M485 235.5h4M502 235.5h2M718 235.5h1M1012 235.5h1M481 236.5h4M504 236.5h1M718 236.5h1M1013 236.5h1M477 237.5h4M505 237.5h1M717 237.5h1M1013 237.5h1M473 238.5h4M506 238.5h1M716 238.5h1M1014 238.5h1M469 239.5h4M507 239.5h2M716 239.5h1M1014 239.5h1M466 240.5h3M509 240.5h1M715 240.5h1M1015 240.5h1M462 241.5h4M510 241.5h1M714 241.5h1M1016 241.5h1M459 242.5h3M511 242.5h1M713 242.5h1M1016 242.5h1M455 243.5h4M512 243.5h1M713 243.5h1M1017 243.5h1M453 244.5h2M513 244.5h1M712 244.5h1M1018 244.5h1M451 245.5h2M514 245.5h1M711 245.5h1M1018 245.5h1M449 246.5h2M515 246.5h1M710 246.5h1M1019 246.5h1M318 247.5h7M448 247.5h1M516 247.5h2M710 247.5h1M1019 247.5h1M314 248.5h4M325 248.5h7M446 248.5h2M518 248.5h1M709 248.5h1M1020 248.5h1M309 249.5h5M332 249.5h4M444 249.5h2M519 249.5h1M708 249.5h1M1021 249.5h1M306 250.5h3M336 250.5h4M349 250.5h8M443 250.5h1M520 250.5h1M707 250.5h1M1022 250.5h1M304 251.5h2M340 251.5h9M357 251.5h4M442 251.5h1M521 251.5h1M707 251.5h1M1022 251.5h1M303 252.5h1M361 252.5h3M441 252.5h1M522 252.5h1M706 252.5h1M1023 252.5h1M301 253.5h2M364 253.5h2M440 253.5h1M523 253.5h1M705 253.5h1M1024 253.5h1M300 254.5h1M366 254.5h2M438 254.5h2M524 254.5h1M704 254.5h1M1025 254.5h1M298 255.5h2M368 255.5h1M437 255.5h1M525 255.5h1M704 255.5h1M1026 255.5h1M297 256.5h1M369 256.5h2M436 256.5h1M525 256.5h1M703 256.5h1M1026 256.5h1M295 257.5h2M371 257.5h1M435 257.5h1M526 257.5h1M702 257.5h1M1027 257.5h1M294 258.5h1M372 258.5h2M434 258.5h1M527 258.5h1M701 258.5h1M1028 258.5h1M292 259.5h2M374 259.5h1M432 259.5h2M528 259.5h1M701 259.5h1M1029 259.5h1M291 260.5h1M375 260.5h2M431 260.5h1M528 260.5h1M700 260.5h1M1029 260.5h1M290 261.5h1M377 261.5h1M429 261.5h2M529 261.5h1M699 261.5h1M1030 261.5h1M289 262.5h1M378 262.5h1M428 262.5h1M530 262.5h1M698 262.5h1M1030 262.5h1M288 263.5h1M379 263.5h2M426 263.5h2M531 263.5h1M697 263.5h1M1031 263.5h1M287 264.5h1M381 264.5h1M425 264.5h1M531 264.5h1M696 264.5h1M1031 264.5h1M286 265.5h1M382 265.5h1M423 265.5h2M532 265.5h1M695 265.5h1M1032 265.5h1M285 266.5h1M383 266.5h2M422 266.5h1M533 266.5h1M694 266.5h1M1032 266.5h1M284 267.5h1M385 267.5h1M421 267.5h1M533 267.5h1M693 267.5h1M1033 267.5h1M284 268.5h1M386 268.5h2M420 268.5h1M534 268.5h1M692 268.5h1M1033 268.5h1M283 269.5h1M388 269.5h2M419 269.5h1M535 269.5h1M691 269.5h1M1034 269.5h1M282 270.5h1M390 270.5h3M417 270.5h2M536 270.5h1M690 270.5h1M1034 270.5h1M281 271.5h1M393 271.5h2M416 271.5h1M536 271.5h1M689 271.5h1M1035 271.5h1M280 272.5h1M395 272.5h6M415 272.5h1M537 272.5h1M688 272.5h1M1035 272.5h1M279 273.5h1M401 273.5h14M538 273.5h1M687 273.5h1M1036 273.5h1M278 274.5h1M539 274.5h1M686 274.5h1M1037 274.5h1M277 275.5h1M539 275.5h1M685 275.5h1M1037 275.5h1M276 276.5h1M540 276.5h1M684 276.5h1M1038 276.5h1M275 277.5h1M541 277.5h1M682 277.5h2M1039 277.5h1M274 278.5h1M542 278.5h1M680 278.5h2M1039 278.5h1M273 279.5h1M542 279.5h1M678 279.5h2M1040 279.5h1M272 280.5h1M543 280.5h1M676 280.5h2M1041 280.5h1M271 281.5h1M544 281.5h1M674 281.5h2M1041 281.5h1M270 282.5h1M545 282.5h1M672 282.5h2M1042 282.5h1M269 283.5h1M546 283.5h1M670 283.5h2M1043 283.5h1M268 284.5h1M546 284.5h1M669 284.5h1M1043 284.5h1M267 285.5h1M547 285.5h1M667 285.5h2M1044 285.5h1M266 286.5h1M548 286.5h1M666 286.5h1M1045 286.5h1M265 287.5h1M549 287.5h1M665 287.5h1M1046 287.5h1M264 288.5h1M549 288.5h1M663 288.5h2M1047 288.5h1M263 289.5h1M550 289.5h1M662 289.5h1M1048 289.5h1M262 290.5h1M551 290.5h1M660 290.5h2M1048 290.5h1M262 291.5h1M552 291.5h1M659 291.5h1M1049 291.5h1M261 292.5h1M553 292.5h1M657 292.5h2M1050 292.5h1M260 293.5h1M553 293.5h1M656 293.5h1M1051 293.5h1M259 294.5h1M554 294.5h1M655 294.5h1M1052 294.5h1M258 295.5h1M555 295.5h1M653 295.5h2M1053 295.5h1M257 296.5h1M556 296.5h1M652 296.5h1M1054 296.5h1M256 297.5h1M557 297.5h1M651 297.5h1M1055 297.5h2M256 298.5h1M558 298.5h1M650 298.5h1M1057 298.5h1M255 299.5h1M559 299.5h1M649 299.5h1M1058 299.5h1M254 300.5h1M559 300.5h1M648 300.5h1M1059 300.5h1M253 301.5h1M560 301.5h1M647 301.5h1M1060 301.5h1M252 302.5h1M561 302.5h1M645 302.5h2M1061 302.5h2M251 303.5h1M562 303.5h1M644 303.5h1M1063 303.5h1M251 304.5h1M563 304.5h1M643 304.5h1M1064 304.5h1M250 305.5h1M564 305.5h1M642 305.5h1M1065 305.5h2M249 306.5h1M565 306.5h2M641 306.5h1M1067 306.5h1M248 307.5h1M567 307.5h1M640 307.5h1M1068 307.5h1M247 308.5h1M568 308.5h1M638 308.5h2M1069 308.5h1M246 309.5h1M569 309.5h2M636 309.5h2M1070 309.5h1M246 310.5h1M571 310.5h1M634 310.5h2M1071 310.5h1M245 311.5h1M572 311.5h1M632 311.5h2M1072 311.5h1M241 312.5h4M573 312.5h2M630 312.5h2M1073 312.5h1M236 313.5h5M575 313.5h1M628 313.5h2M1074 313.5h1M233 314.5h3M576 314.5h2M626 314.5h2M1075 314.5h1M231 315.5h2M578 315.5h1M625 315.5h1M1076 315.5h1M228 316.5h3M579 316.5h2M623 316.5h2M1077 316.5h1M225 317.5h3M581 317.5h2M622 317.5h1M1078 317.5h1M222 318.5h3M583 318.5h3M620 318.5h2M1079 318.5h1M220 319.5h2M586 319.5h3M619 319.5h1M1080 319.5h1M218 320.5h2M589 320.5h3M617 320.5h2M1080 320.5h1M216 321.5h2M592 321.5h3M616 321.5h1M1081 321.5h1M214 322.5h2M595 322.5h3M615 322.5h1M1082 322.5h1M212 323.5h2M598 323.5h3M613 323.5h2M1083 323.5h1M210 324.5h2M601 324.5h12M1084 324.5h1M208 325.5h2M1085 325.5h1M204 326.5h4M1086 326.5h1M200 327.5h4M1087 327.5h1M195 328.5h5M1088 328.5h1M191 329.5h4M1089 329.5h1M187 330.5h4M1090 330.5h1M183 331.5h4M1091 331.5h1M180 332.5h3M1092 332.5h2M178 333.5h2M1094 333.5h2M177 334.5h1M1096 334.5h2M175 335.5h2M1098 335.5h2M174 336.5h1M1100 336.5h5M172 337.5h2M1105 337.5h7M171 338.5h1M1112 338.5h4M170 339.5h1M169 340.5h1M169 341.5h1M168 342.5h1M167 343.5h1M166 344.5h1M165 345.5h1M165 346.5h1M164 347.5h1M163 348.5h1M162 349.5h1M160 350.5h2M159 351.5h1M158 352.5h1M156 353.5h2M155 354.5h1M154 355.5h1M152 356.5h2M151 357.5h1M149 358.5h2M148 359.5h1M146 360.5h2M145 361.5h1M143 362.5h2M142 363.5h1M141 364.5h1M140 365.5h1M140 366.5h1M139 367.5h1M138 368.5h1M137 369.5h1M137 370.5h1M136 371.5h1M135 372.5h1M135 373.5h1M134 374.5h1M133 375.5h1M133 376.5h1M132 377.5h1M131 378.5h1M131 379.5h1M130 380.5h1M130 381.5h1M129 382.5h1M128 383.5h1M128 384.5h1M127 385.5h1M126 386.5h1M126 387.5h1M125 388.5h1M124 389.5h1M123 390.5h1M123 391.5h1M122 392.5h1M121 393.5h1M120 394.5h1M119 395.5h1M119 396.5h1M118 397.5h1M117 398.5h1M4 399.5h1M116 399.5h1M5 400.5h1M116 400.5h1M6 401.5h1M115 401.5h1M6 402.5h1M114 402.5h1M7 403.5h1M113 403.5h1M8 404.5h1M112 404.5h1M9 405.5h1M111 405.5h1M9 406.5h1M110 406.5h1M10 407.5h1M108 407.5h2M11 408.5h1M107 408.5h1M12 409.5h1M106 409.5h1M12 410.5h1M105 410.5h1M13 411.5h1M104 411.5h1M14 412.5h1M103 412.5h1M15 413.5h1M101 413.5h2M16 414.5h1M100 414.5h1M17 415.5h1M99 415.5h1M18 416.5h1M97 416.5h2M19 417.5h1M96 417.5h1M20 418.5h1M95 418.5h1M21 419.5h1M93 419.5h2M21 420.5h1M91 420.5h2M22 421.5h1M90 421.5h1M23 422.5h1M88 422.5h2M24 423.5h1M86 423.5h2M25 424.5h1M84 424.5h2M26 425.5h1M83 425.5h1M27 426.5h1M82 426.5h1M28 427.5h5M81 427.5h1M33 428.5h5M80 428.5h1M38 429.5h1M79 429.5h1M39 430.5h2M78 430.5h1M41 431.5h1M77 431.5h1M42 432.5h1M76 432.5h1M43 433.5h1M75 433.5h1M44 434.5h2M74 434.5h1M46 435.5h1M73 435.5h1M47 436.5h2M72 436.5h1M49 437.5h3M70 437.5h2M52 438.5h4M66 438.5h4M56 439.5h3M62 439.5h4M59 440.5h3" fill="none" stroke="#ff0000" stroke-width="1"/>
<path d="M780 90.5h2M778 91.5h2M782 91.5h2M777 92.5h1M784 92.5h2M775 93.5h2M786 93.5h2M773 94.5h2M788 94.5h5M772 95.5h1M793 95.5h5M771 96.5h1M798 96.5h3M770 97.5h1M801 97.5h2M769 98.5h1M803 98.5h3M767 99.5h2M806 99.5h2M766 100.5h1M808 100.5h2M765 101.5h1M810 101.5h2M764 102.5h1M812 102.5h2M762 103.5h2M814 103.5h3M833 103.5h6M761 104.5h1M817 104.5h2M825 104.5h8M839 104.5h4M759 105.5h2M819 105.5h6M843 105.5h2M757 106.5h2M845 106.5h1M756 107.5h1M846 107.5h1M755 108.5h1M847 108.5h1M755 109.5h1M848 109.5h1M754 110.5h1M848 110.5h1M754 111.5h1M849 111.5h1M753 112.5h1M850 112.5h1M752 113.5h1M851 113.5h1M752 114.5h1M852 114.5h1M751 115.5h1M853 115.5h1M750 116.5h1M853 116.5h1M750 117.5h1M854 117.5h1M749 118.5h1M855 118.5h1M749 119.5h1M855 119.5h1M748 120.5h1M856 120.5h1M748 121.5h1M857 121.5h1M747 122.5h1M857 122.5h1M747 123.5h1M858 123.5h1M746 124.5h1M859 124.5h1M746 125.5h1M859 125.5h1M745 126.5h1M860 126.5h1M745 127.5h1M860 127.5h1M744 128.5h1M861 128.5h1M744 129.5h1M861 129.5h1M743 130.5h1M862 130.5h1M743 131.5h1M862 131.5h1M742 132.5h1M863 132.5h1M742 133.5h1M863 133.5h1M741 134.5h1M864 134.5h1M741 135.5h1M864 135.5h1M740 136.5h1M865 136.5h1M740 137.5h1M865 137.5h1M740 138.5h1M866 138.5h1M739 139.5h1M866 139.5h1M739 140.5h1M867 140.5h1M738 141.5h1M867 141.5h1M738 142.5h1M868 142.5h1M738 143.5h1M869 143.5h1M737 144.5h1M870 144.5h1M737 145.5h1M871 145.5h1M737 146.5h1M872 146.5h1M736 147.5h1M872 147.5h1M736 148.5h1M873 148.5h1M735 149.5h1M874 149.5h1M735 150.5h1M875 150.5h1M735 151.5h1M876 151.5h1M734 152.5h1M876 152.5h1M734 153.5h1M877 153.5h1M734 154.5h1M877 154.5h1M733 155.5h1M878 155.5h1M733 156.5h1M878 156.5h1M732 157.5h1M879 157.5h1M732 158.5h1M879 158.5h1M732 159.5h1M880 159.5h1M731 160.5h1M880 160.5h1M731 161.5h1M881 161.5h1M731 162.5h1M881 162.5h1M730 163.5h1M882 163.5h1M730 164.5h1M882 164.5h1M730 165.5h1M883 165.5h1M730 166.5h1M883 166.5h1M729 167.5h1M884 167.5h1M729 168.5h1M884 168.5h1M729 169.5h1M885 169.5h1M728 170.5h1M885 170.5h1M728 171.5h1M886 171.5h1M728 172.5h1M886 172.5h1M727 173.5h1M887 173.5h1M727 174.5h1M887 174.5h1M727 175.5h1M888 175.5h1M726 176.5h1M889 176.5h1M726 177.5h1M889 177.5h1M726 178.5h1M890 178.5h1M726 179.5h1M890 179.5h1M725 180.5h1M891 180.5h1M725 181.5h1M891 181.5h1M725 182.5h1M892 182.5h1M724 183.5h1M893 183.5h2M724 184.5h1M895 184.5h2M924 184.5h9M723 185.5h1M897 185.5h1M923 185.5h1M933 185.5h1M723 186.5h1M898 186.5h2M922 186.5h1M934 186.5h1M722 187.5h1M900 187.5h3M921 187.5h1M935 187.5h2M722 188.5h1M903 188.5h4M920 188.5h1M937 188.5h1M721 189.5h1M907 189.5h3M919 189.5h1M938 189.5h1M721 190.5h1M910 190.5h3M918 190.5h1M939 190.5h1M720 191.5h1M913 191.5h2M917 191.5h1M940 191.5h1M720 192.5h1M915 192.5h2M941 192.5h1M719 193.5h1M941 193.5h1M719 194.5h1M942 194.5h1M718 195.5h1M943 195.5h1M718 196.5h1M943 196.5h1M717 197.5h1M944 197.5h1M717 198.5h1M945 198.5h1M716 199.5h1M945 199.5h1M716 200.5h1M946 200.5h1M715 201.5h1M947 201.5h1M715 202.5h1M947 202.5h1M714 203.5h1M948 203.5h1M714 204.5h1M949 204.5h1M713 205.5h1M949 205.5h1M452 206.5h5M713 206.5h1M950 206.5h1M451 207.5h1M457 207.5h12M712 207.5h1M951 207.5h1M451 208.5h1M469 208.5h1M712 208.5h1M951 208.5h1M450 209.5h1M469 209.5h1M711 209.5h1M952 209.5h1M449 210.5h1M470 210.5h1M711 210.5h1M953 210.5h1M449 211.5h1M471 211.5h1M710 211.5h1M953 211.5h1M448 212.5h1M471 212.5h1M710 212.5h1M954 212.5h1M447 213.5h1M472 213.5h1M709 213.5h1M955 213.5h1M446 214.5h1M473 214.5h1M709 214.5h1M955 214.5h1M446 215.5h1M473 215.5h1M708 215.5h1M956 215.5h1M445 216.5h1M474 216.5h1M708 216.5h1M957 216.5h1M444 217.5h1M475 217.5h1M707 217.5h1M958 217.5h1M444 218.5h1M475 218.5h1M707 218.5h1M958 218.5h1M443 219.5h1M476 219.5h1M706 219.5h1M959 219.5h1M442 220.5h1M477 220.5h1M706 220.5h1M960 220.5h1M442 221.5h1M477 221.5h1M706 221.5h1M961 221.5h1M441 222.5h1M478 222.5h1M705 222.5h1M962 222.5h1M440 223.5h1M479 223.5h1M705 223.5h1M962 223.5h1M439 224.5h1M480 224.5h1M704 224.5h1M963 224.5h1M439 225.5h1M481 225.5h1M704 225.5h1M964 225.5h3M300 226.5h2M438 226.5h1M482 226.5h1M704 226.5h1M967 226.5h4M299 227.5h1M302 227.5h2M437 227.5h1M483 227.5h1M703 227.5h1M971 227.5h3M297 228.5h2M304 228.5h2M437 228.5h1M484 228.5h1M703 228.5h1M974 228.5h3M296 229.5h1M306 229.5h2M436 229.5h1M485 229.5h1M702 229.5h1M977 229.5h2M295 230.5h1M308 230.5h1M435 230.5h1M486 230.5h1M702 230.5h1M979 230.5h3M294 231.5h1M309 231.5h1M435 231.5h1M487 231.5h1M702 231.5h1M982 231.5h3M293 232.5h1M310 232.5h1M434 232.5h1M488 232.5h1M701 232.5h1M985 232.5h2M291 233.5h2M311 233.5h1M434 233.5h1M489 233.5h1M701 233.5h1M987 233.5h4M290 234.5h1M311 234.5h1M433 234.5h1M490 234.5h1M700 234.5h1M991 234.5h4M289 235.5h1M312 235.5h1M433 235.5h1M491 235.5h1M700 235.5h1M995 235.5h3M288 236.5h1M313 236.5h1M432 236.5h1M492 236.5h1M699 236.5h1M998 236.5h2M286 237.5h2M314 237.5h1M432 237.5h1M492 237.5h1M699 237.5h1M1000 237.5h2M285 238.5h1M315 238.5h1M431 238.5h1M493 238.5h1M698 238.5h1M1002 238.5h2M283 239.5h2M316 239.5h1M431 239.5h1M493 239.5h1M698 239.5h1M1004 239.5h1M281 240.5h2M317 240.5h1M430 240.5h1M494 240.5h1M697 240.5h1M1005 240.5h1M279 241.5h2M318 241.5h1M430 241.5h1M494 241.5h1M697 241.5h1M1005 241.5h1M277 242.5h2M318 242.5h1M429 242.5h1M495 242.5h1M696 242.5h1M1006 242.5h1M274 243.5h3M319 243.5h1M429 243.5h1M495 243.5h1M695 243.5h1M1006 243.5h1M272 244.5h2M320 244.5h1M428 244.5h1M496 244.5h1M695 244.5h1M1007 244.5h1M270 245.5h2M321 245.5h1M428 245.5h1M496 245.5h1M694 245.5h1M1008 245.5h1M268 246.5h2M322 246.5h1M427 246.5h1M497 246.5h1M694 246.5h1M1008 246.5h1M267 247.5h1M323 247.5h1M427 247.5h1M497 247.5h1M693 247.5h1M1009 247.5h1M267 248.5h1M324 248.5h1M426 248.5h1M498 248.5h1M693 248.5h1M1010 248.5h1M266 249.5h1M325 249.5h1M426 249.5h1M498 249.5h1M692 249.5h1M1010 249.5h1M265 250.5h1M326 250.5h1M425 250.5h1M499 250.5h1M691 250.5h1M1011 250.5h1M265 251.5h1M327 251.5h1M425 251.5h1M499 251.5h1M691 251.5h1M1011 251.5h1M264 252.5h1M328 252.5h1M424 252.5h1M500 252.5h1M690 252.5h1M1012 252.5h1M263 253.5h1M329 253.5h1M424 253.5h1M500 253.5h1M689 253.5h1M1012 253.5h1M263 254.5h1M330 254.5h1M423 254.5h1M501 254.5h1M688 254.5h1M1013 254.5h1M262 255.5h1M331 255.5h1M423 255.5h1M501 255.5h1M688 255.5h1M1013 255.5h1M261 256.5h1M332 256.5h1M422 256.5h1M502 256.5h1M687 256.5h1M1014 256.5h1M260 257.5h1M333 257.5h1M422 257.5h1M502 257.5h1M686 257.5h1M1014 257.5h1M260 258.5h1M334 258.5h1M421 258.5h1M502 258.5h1M685 258.5h1M1015 258.5h1M259 259.5h1M335 259.5h1M421 259.5h1M503 259.5h1M685 259.5h1M1015 259.5h1M258 260.5h1M336 260.5h2M420 260.5h1M503 260.5h1M683 260.5h2M1016 260.5h1M258 261.5h1M338 261.5h1M420 261.5h1M503 261.5h1M681 261.5h2M1016 261.5h1M257 262.5h1M339 262.5h1M419 262.5h1M504 262.5h1M678 262.5h3M1017 262.5h1M256 263.5h1M340 263.5h2M418 263.5h1M504 263.5h1M676 263.5h2M1017 263.5h1M256 264.5h1M342 264.5h1M418 264.5h1M505 264.5h1M674 264.5h2M1018 264.5h1M255 265.5h1M343 265.5h1M417 265.5h1M505 265.5h1M672 265.5h2M1018 265.5h1M254 266.5h1M344 266.5h1M416 266.5h1M505 266.5h1M670 266.5h2M1019 266.5h1M254 267.5h1M345 267.5h2M416 267.5h1M506 267.5h1M668 267.5h2M1019 267.5h1M253 268.5h1M347 268.5h1M415 268.5h1M506 268.5h1M666 268.5h2M1020 268.5h1M252 269.5h1M348 269.5h1M415 269.5h1M506 269.5h1M664 269.5h2M1020 269.5h1M252 270.5h1M349 270.5h2M414 270.5h1M507 270.5h1M662 270.5h2M1021 270.5h1M251 271.5h1M351 271.5h1M413 271.5h1M507 271.5h1M660 271.5h2M1021 271.5h1M250 272.5h1M352 272.5h1M413 272.5h1M508 272.5h1M659 272.5h1M1022 272.5h1M250 273.5h1M353 273.5h2M412 273.5h1M508 273.5h1M658 273.5h1M1022 273.5h1M249 274.5h1M355 274.5h1M410 274.5h2M509 274.5h1M657 274.5h1M1023 274.5h1M248 275.5h1M356 275.5h5M409 275.5h1M509 275.5h1M656 275.5h1M1023 275.5h1M247 276.5h1M361 276.5h5M408 276.5h1M510 276.5h1M655 276.5h1M1023 276.5h1M247 277.5h1M366 277.5h2M406 277.5h2M510 277.5h1M654 277.5h1M1024 277.5h1M246 278.5h1M368 278.5h2M405 278.5h1M511 278.5h1M653 278.5h1M1024 278.5h1M245 279.5h1M370 279.5h2M404 279.5h1M511 279.5h1M652 279.5h1M1025 279.5h1M245 280.5h1M372 280.5h3M402 280.5h2M512 280.5h1M651 280.5h1M1025 280.5h1M244 281.5h1M375 281.5h5M401 281.5h1M512 281.5h1M650 281.5h1M1025 281.5h1M243 282.5h1M380 282.5h5M400 282.5h1M513 282.5h1M649 282.5h1M1026 282.5h1M242 283.5h1M385 283.5h5M398 283.5h2M514 283.5h1M647 283.5h2M1026 283.5h1M240 284.5h2M390 284.5h4M397 284.5h1M514 284.5h1M646 284.5h1M1027 284.5h1M239 285.5h1M394 285.5h3M515 285.5h1M645 285.5h1M1027 285.5h1M238 286.5h1M515 286.5h1M636 286.5h9M1028 286.5h1M237 287.5h1M516 287.5h1M634 287.5h2M1028 287.5h1M236 288.5h1M516 288.5h1M632 288.5h2M1028 288.5h1M235 289.5h1M517 289.5h1M630 289.5h2M1029 289.5h1M235 290.5h1M518 290.5h1M628 290.5h2M1029 290.5h1M234 291.5h1M518 291.5h1M627 291.5h1M1030 291.5h1M233 292.5h1M519 292.5h1M626 292.5h1M1030 292.5h1M232 293.5h1M520 293.5h1M624 293.5h2M1031 293.5h1M231 294.5h1M520 294.5h1M623 294.5h1M1031 294.5h1M230 295.5h1M521 295.5h1M622 295.5h1M1031 295.5h1M230 296.5h1M521 296.5h1M621 296.5h1M1032 296.5h1M229 297.5h1M522 297.5h1M620 297.5h1M1032 297.5h1M228 298.5h1M523 298.5h1M618 298.5h2M1033 298.5h1M227 299.5h1M523 299.5h1M617 299.5h1M1033 299.5h1M226 300.5h1M524 300.5h1M616 300.5h1M1033 300.5h1M226 301.5h1M525 301.5h1M615 301.5h1M1034 301.5h1M225 302.5h1M525 302.5h1M614 302.5h1M1034 302.5h1M224 303.5h1M526 303.5h1M613 303.5h1M1035 303.5h1M223 304.5h1M526 304.5h1M612 304.5h1M1035 304.5h1M222 305.5h1M527 305.5h1M611 305.5h1M1036 305.5h1M222 306.5h1M528 306.5h1M609 306.5h2M1036 306.5h1M221 307.5h1M528 307.5h1M608 307.5h1M1036 307.5h1M220 308.5h1M529 308.5h1M607 308.5h1M1037 308.5h1M219 309.5h1M530 309.5h1M606 309.5h1M1037 309.5h1M219 310.5h1M530 310.5h1M605 310.5h1M1037 310.5h1M218 311.5h1M531 311.5h1M604 311.5h1M1037 311.5h1M217 312.5h1M531 312.5h1M602 312.5h2M1038 312.5h1M216 313.5h1M532 313.5h1M601 313.5h1M1038 313.5h1M1115 313.5h1M215 314.5h1M532 314.5h1M599 314.5h2M1038 314.5h1M1114 314.5h1M215 315.5h1M533 315.5h1M597 315.5h2M1039 315.5h1M1114 315.5h1M214 316.5h1M534 316.5h1M596 316.5h1M1039 316.5h1M1113 316.5h1M213 317.5h1M534 317.5h1M595 317.5h1M1039 317.5h1M1112 317.5h1M212 318.5h1M535 318.5h1M594 318.5h1M1040 318.5h1M1111 318.5h1M211 319.5h1M535 319.5h1M593 319.5h1M1040 319.5h1M1111 319.5h1M133 320.5h9M210 320.5h1M536 320.5h1M592 320.5h1M1040 320.5h1M1110 320.5h1M131 321.5h2M142 321.5h2M210 321.5h1M537 321.5h1M591 321.5h1M1040 321.5h1M1109 321.5h1M130 322.5h1M144 322.5h2M209 322.5h1M537 322.5h1M590 322.5h1M1041 322.5h1M1109 322.5h1M128 323.5h2M146 323.5h2M208 323.5h1M538 323.5h1M589 323.5h1M1041 323.5h1M1108 323.5h1M126 324.5h2M148 324.5h2M207 324.5h1M538 324.5h1M588 324.5h1M1041 324.5h1M1107 324.5h1M125 325.5h1M150 325.5h2M206 325.5h1M539 325.5h1M587 325.5h1M1042 325.5h1M1107 325.5h1M124 326.5h1M152 326.5h1M205 326.5h1M539 326.5h1M586 326.5h1M1042 326.5h1M1106 326.5h1M123 327.5h1M153 327.5h2M204 327.5h1M540 327.5h1M585 327.5h1M1042 327.5h1M1106 327.5h1M123 328.5h1M155 328.5h1M204 328.5h1M541 328.5h1M583 328.5h2M1043 328.5h1M1105 328.5h1M122 329.5h1M156 329.5h2M203 329.5h1M542 329.5h1M582 329.5h1M1043 329.5h1M1105 329.5h1M121 330.5h1M158 330.5h2M202 330.5h1M542 330.5h1M581 330.5h1M1043 330.5h1M1104 330.5h1M120 331.5h1M160 331.5h1M201 331.5h1M543 331.5h1M577 331.5h4M1043 331.5h1M1103 331.5h1M120 332.5h1M161 332.5h2M199 332.5h2M544 332.5h1M572 332.5h5M1044 332.5h1M1103 332.5h1M119 333.5h1M163 333.5h2M198 333.5h1M545 333.5h1M570 333.5h2M1044 333.5h1M1102 333.5h1M118 334.5h1M165 334.5h2M196 334.5h2M546 334.5h1M569 334.5h1M1044 334.5h1M1102 334.5h1M117 335.5h1M167 335.5h2M195 335.5h1M546 335.5h1M567 335.5h2M1045 335.5h1M1101 335.5h1M117 336.5h1M169 336.5h2M193 336.5h2M547 336.5h1M565 336.5h2M1045 336.5h1M1101 336.5h1M116 337.5h1M171 337.5h2M191 337.5h2M548 337.5h1M564 337.5h1M1046 337.5h1M1100 337.5h1M116 338.5h1M173 338.5h4M190 338.5h1M549 338.5h2M562 338.5h2M1046 338.5h1M1099 338.5h1M115 339.5h1M177 339.5h7M188 339.5h2M551 339.5h2M561 339.5h1M1047 339.5h1M1099 339.5h1M115 340.5h1M184 340.5h4M553 340.5h1M559 340.5h2M1047 340.5h1M1098 340.5h1M114 341.5h1M554 341.5h2M557 341.5h2M1048 341.5h1M1098 341.5h1M114 342.5h1M556 342.5h1M1048 342.5h1M1097 342.5h1M114 343.5h1M1048 343.5h1M1097 343.5h1M113 344.5h1M1049 344.5h1M1096 344.5h1M113 345.5h1M1049 345.5h1M1096 345.5h1M113 346.5h1M1050 346.5h1M1095 346.5h1M112 347.5h1M1050 347.5h1M1095 347.5h1M112 348.5h1M1051 348.5h1M1094 348.5h1M111 349.5h1M1051 349.5h1M1094 349.5h1M111 350.5h1M1052 350.5h1M1093 350.5h1M111 351.5h1M1052 351.5h1M1093 351.5h1M110 352.5h1M1053 352.5h1M1092 352.5h1M110 353.5h1M1053 353.5h1M1091 353.5h1M109 354.5h1M1054 354.5h1M1090 354.5h1M109 355.5h1M1054 355.5h1M1090 355.5h1M109 356.5h1M1055 356.5h1M1089 356.5h1M108 357.5h1M1055 357.5h1M1088 357.5h1M108 358.5h1M1056 358.5h1M1087 358.5h1M107 359.5h1M1057 359.5h1M1086 359.5h1M107 360.5h1M1057 360.5h1M1086 360.5h1M107 361.5h1M1058 361.5h1M1085 361.5h1M106 362.5h1M1058 362.5h1M1075 362.5h10M106 363.5h1M1059 363.5h1M1073 363.5h2M106 364.5h1M1059 364.5h1M1070 364.5h3M105 365.5h1M1060 365.5h10M105 366.5h1M104 367.5h1M104 368.5h1M104 369.5h1M103 370.5h1M103 371.5h1M102 372.5h1M102 373.5h1M101 374.5h1M101 375.5h1M100 376.5h1M100 377.5h1M99 378.5h1M99 379.5h1M99 380.5h1M98 381.5h1M98 382.5h1M97 383.5h1M97 384.5h1M96 385.5h1M96 386.5h1M95 387.5h1M95 388.5h1M94 389.5h1M94 390.5h1M93 391.5h1M93 392.5h1M92 393.5h1M92 394.5h1M91 395.5h1M91 396.5h1M90 397.5h1M90 398.5h1M89 399.5h1M89 400.5h1M88 401.5h1M88 402.5h1M87 403.5h1M87 404.5h1M86 405.5h1M86 406.5h1M85 407.5h1M85 408.5h1M84 409.5h1M84 410.5h1M83 411.5h1M83 412.5h1M82 413.5h1M82 414.5h1M82 415.5h1M81 416.5h1M81 417.5h1M81 418.5h1M81 419.5h1M80 420.5h1M4 421.5h1M80 421.5h1M5 422.5h2M80 422.5h1M7 423.5h1M79 423.5h1M8 424.5h1M79 424.5h1M9 425.5h2M79 425.5h1M11 426.5h1M78 426.5h1M12 427.5h10M78 427.5h1M22 428.5h1M78 428.5h1M23 429.5h1M78 429.5h1M23 430.5h1M77 430.5h1M24 431.5h1M77 431.5h1M25 432.5h1M77 432.5h1M26 433.5h1M76 433.5h1M26 434.5h1M76 434.5h1M27 435.5h1M75 435.5h1M28 436.5h1M75 436.5h1M29 437.5h1M74 437.5h1M29 438.5h1M74 438.5h1M30 439.5h1M73 439.5h1M31 440.5h1M73 440.5h1M32 441.5h1M73 441.5h1M33 442.5h1M72 442.5h1M34 443.5h1M72 443.5h1M35 444.5h1M71 444.5h1M36 445.5h1M71 445.5h1M37 446.5h1M70 446.5h1M38 447.5h1M70 447.5h1M39 448.5h2M69 448.5h1M41 449.5h2M69 449.5h1M43 450.5h3M68 450.5h1M46 451.5h2M67 451.5h1M48 452.5h2M67 452.5h1M50 453.5h2M66 453.5h1M52 454.5h1M65 454.5h1M53 455.5h2M64 455.5h1M55 456.5h1M63 456.5h1M56 457.5h1M62 457.5h1M57 458.5h2M62 458.5h1M59 459.5h1M61 459.5h1M60 460.5h1" fill="none" stroke="#0000cd" stroke-width="1"/>
<rect x="928" y="265" width="282" height="3" fill="#f83636"/>
<rect x="929" y="316" width="284" height="3" fill="#9ccb00"/>
<rect x="1090" y="316" width="5" height="3" fill="#ff0000"/>
<path d="M802 572.5h3M796 573.5h3M808 573.5h3M792 574.5h1M814 574.5h3M820 574.5h3M785 575.5h2M790 575.5h2M779 576.5h2M784 576.5h1M826 576.5h2M778 577.5h1M828 577.5h1M774 578.5h1M832 578.5h3M772 579.5h2M838 579.5h3M844 580.5h3M766 581.5h3M850 581.5h2M852 582.5h1M760 583.5h3M856 583.5h2M756 584.5h1M858 584.5h1M754 585.5h2M862 585.5h1M863 586.5h2M750 587.5h1M292 588.5h3M298 588.5h3M304 588.5h3M310 588.5h3M316 588.5h3M322 588.5h3M328 588.5h2M748 588.5h2M868 588.5h1M281 589.5h2M286 589.5h3M330 589.5h1M334 589.5h1M869 589.5h2M275 590.5h2M280 590.5h1M335 590.5h2M274 591.5h1M340 591.5h3M744 591.5h1M874 591.5h1M268 592.5h3M346 592.5h1M743 592.5h1M875 592.5h2M263 593.5h2M347 593.5h2M742 593.5h1M262 594.5h1M352 594.5h1M880 594.5h1M256 595.5h3M353 595.5h2M738 595.5h1M881 595.5h2M251 596.5h2M358 596.5h2M736 596.5h2M250 597.5h1M360 597.5h1M886 597.5h2M244 598.5h3M364 598.5h2M731 598.5h2M888 598.5h1M233 599.5h2M238 599.5h3M366 599.5h1M730 599.5h1M226 600.5h3M232 600.5h1M370 600.5h1M726 600.5h1M892 600.5h2M220 601.5h3M371 601.5h2M478 601.5h3M484 601.5h3M724 601.5h2M894 601.5h1M172 602.5h3M178 602.5h3M184 602.5h3M190 602.5h3M196 602.5h3M202 602.5h3M208 602.5h3M214 602.5h3M376 602.5h3M466 602.5h3M472 602.5h3M490 602.5h3M496 602.5h3M162 603.5h1M166 603.5h3M382 603.5h1M460 603.5h3M502 603.5h1M720 603.5h1M898 603.5h2M160 604.5h2M383 604.5h2M454 604.5h3M503 604.5h2M718 604.5h2M900 604.5h1M154 605.5h3M388 605.5h3M448 605.5h3M508 605.5h2M148 606.5h3M394 606.5h1M442 606.5h3M510 606.5h1M712 606.5h3M904 606.5h2M395 607.5h2M436 607.5h3M514 607.5h1M708 607.5h1M906 607.5h1M144 608.5h1M400 608.5h3M406 608.5h1M432 608.5h1M515 608.5h2M706 608.5h2M142 609.5h2M407 609.5h2M412 609.5h3M418 609.5h3M424 609.5h3M430 609.5h2M910 609.5h3M520 610.5h2M702 610.5h1M138 611.5h1M522 611.5h1M700 611.5h2M916 611.5h2M136 612.5h2M695 612.5h2M918 612.5h1M526 613.5h2M694 613.5h1M922 613.5h1M132 614.5h1M528 614.5h1M688 614.5h3M923 614.5h2M130 615.5h2M683 615.5h2M928 615.5h1M532 616.5h2M682 616.5h1M929 616.5h2M126 617.5h1M534 617.5h1M676 617.5h3M125 618.5h1M670 618.5h3M934 618.5h3M124 619.5h1M538 619.5h2M664 619.5h3M540 620.5h1M659 620.5h2M940 620.5h3M119 621.5h2M658 621.5h1M946 621.5h1M118 622.5h1M544 622.5h3M652 622.5h3M947 622.5h2M647 623.5h2M952 623.5h3M114 624.5h1M550 624.5h2M646 624.5h1M958 624.5h3M112 625.5h2M552 625.5h1M640 625.5h3M964 625.5h3M556 626.5h2M635 626.5h2M970 626.5h1M108 627.5h1M558 627.5h1M634 627.5h1M971 627.5h2M106 628.5h2M562 628.5h1M624 628.5h1M628 628.5h3M976 628.5h3M563 629.5h2M616 629.5h3M622 629.5h2M982 629.5h3M102 630.5h1M610 630.5h3M988 630.5h3M100 631.5h2M568 631.5h3M994 631.5h3M574 632.5h3M606 632.5h1M1000 632.5h3M96 633.5h1M580 633.5h3M586 633.5h3M592 633.5h3M598 633.5h3M604 633.5h2M1006 633.5h2M94 634.5h2M1008 634.5h1M1012 635.5h3M90 636.5h1M1018 636.5h3M88 637.5h2M1024 637.5h1M1025 638.5h2M4 639.5h3M10 639.5h3M82 639.5h3M1030 639.5h2M16 640.5h3M22 640.5h3M78 640.5h1M1032 640.5h1M28 641.5h3M76 641.5h2M1036 641.5h2M34 642.5h3M40 642.5h3M46 642.5h3M52 642.5h3M58 642.5h3M64 642.5h3M70 642.5h3M1038 642.5h1M1042 643.5h1M1043 644.5h2M1048 645.5h1M1049 646.5h2M1054 648.5h3M1060 650.5h1M1061 651.5h2M1115 652.5h2M1066 653.5h1M1114 653.5h1M1067 654.5h2M1110 654.5h1M1072 655.5h3M1108 655.5h2M1078 656.5h3M1097 656.5h2M1102 656.5h3M1084 657.5h3M1090 657.5h3M1096 657.5h1" fill="none" stroke="#ff0000" stroke-width="1"/>
<path d="M732 696.5h11M731 697.5h1M743 697.5h4M729 698.5h2M747 698.5h3M728 699.5h1M750 699.5h2M708 700.5h2M727 700.5h1M752 700.5h2M706 701.5h2M710 701.5h3M725 701.5h2M754 701.5h2M769 701.5h6M705 702.5h1M713 702.5h2M721 702.5h4M756 702.5h13M775 702.5h4M703 703.5h2M715 703.5h6M779 703.5h2M701 704.5h2M781 704.5h1M700 705.5h1M782 705.5h1M699 706.5h1M783 706.5h1M698 707.5h1M784 707.5h1M268 708.5h1M697 708.5h1M785 708.5h1M797 708.5h1M266 709.5h2M269 709.5h1M695 709.5h2M786 709.5h1M795 709.5h2M798 709.5h1M264 710.5h2M269 710.5h1M420 710.5h1M694 710.5h1M787 710.5h1M793 710.5h2M799 710.5h1M262 711.5h2M270 711.5h1M419 711.5h1M421 711.5h1M693 711.5h1M788 711.5h1M791 711.5h2M800 711.5h1M259 712.5h3M271 712.5h1M419 712.5h1M421 712.5h1M692 712.5h1M789 712.5h2M801 712.5h1M834 712.5h4M257 713.5h2M271 713.5h1M418 713.5h1M422 713.5h1M691 713.5h1M802 713.5h1M829 713.5h5M837 713.5h1M220 714.5h9M254 714.5h3M272 714.5h1M418 714.5h1M423 714.5h1M690 714.5h1M803 714.5h1M827 714.5h2M838 714.5h1M218 715.5h2M229 715.5h1M252 715.5h2M273 715.5h1M417 715.5h1M424 715.5h1M689 715.5h1M804 715.5h1M826 715.5h1M838 715.5h1M217 716.5h1M230 716.5h1M251 716.5h1M273 716.5h1M416 716.5h1M424 716.5h1M444 716.5h1M688 716.5h1M805 716.5h1M824 716.5h2M839 716.5h1M215 717.5h2M231 717.5h1M250 717.5h1M274 717.5h1M416 717.5h1M425 717.5h1M442 717.5h2M445 717.5h1M688 717.5h1M806 717.5h2M822 717.5h2M839 717.5h1M213 718.5h2M232 718.5h1M249 718.5h1M275 718.5h1M415 718.5h1M426 718.5h1M440 718.5h2M446 718.5h1M687 718.5h1M808 718.5h2M820 718.5h2M840 718.5h1M212 719.5h1M233 719.5h1M248 719.5h1M275 719.5h1M414 719.5h1M427 719.5h1M438 719.5h2M447 719.5h1M686 719.5h1M810 719.5h1M818 719.5h2M840 719.5h1M210 720.5h2M234 720.5h1M248 720.5h1M276 720.5h13M414 720.5h1M427 720.5h1M433 720.5h5M448 720.5h1M685 720.5h1M811 720.5h2M815 720.5h3M841 720.5h1M208 721.5h2M235 721.5h1M247 721.5h1M289 721.5h12M413 721.5h1M428 721.5h5M449 721.5h1M684 721.5h1M813 721.5h2M841 721.5h1M106 722.5h11M206 722.5h2M236 722.5h3M246 722.5h1M301 722.5h1M404 722.5h5M413 722.5h1M450 722.5h1M682 722.5h2M841 722.5h1M102 723.5h4M117 723.5h2M204 723.5h2M239 723.5h4M245 723.5h1M302 723.5h1M403 723.5h1M409 723.5h4M451 723.5h1M659 723.5h12M680 723.5h2M842 723.5h1M89 724.5h13M119 724.5h2M202 724.5h2M243 724.5h2M303 724.5h1M403 724.5h1M452 724.5h1M655 724.5h4M671 724.5h4M678 724.5h2M842 724.5h1M86 725.5h3M121 725.5h1M200 725.5h2M304 725.5h1M402 725.5h1M453 725.5h1M652 725.5h3M675 725.5h3M843 725.5h1M84 726.5h2M122 726.5h2M129 726.5h4M198 726.5h2M304 726.5h1M402 726.5h1M454 726.5h1M651 726.5h1M843 726.5h1M82 727.5h2M124 727.5h5M133 727.5h2M187 727.5h11M305 727.5h1M401 727.5h1M454 727.5h1M650 727.5h1M844 727.5h1M80 728.5h2M135 728.5h2M164 728.5h3M185 728.5h2M306 728.5h1M401 728.5h1M455 728.5h1M649 728.5h1M844 728.5h1M78 729.5h2M137 729.5h1M162 729.5h2M167 729.5h4M182 729.5h3M307 729.5h1M400 729.5h1M456 729.5h1M647 729.5h2M845 729.5h1M75 730.5h3M138 730.5h2M161 730.5h1M171 730.5h11M308 730.5h2M399 730.5h1M457 730.5h1M625 730.5h5M646 730.5h1M845 730.5h1M73 731.5h2M140 731.5h5M159 731.5h2M310 731.5h3M399 731.5h1M458 731.5h1M612 731.5h13M630 731.5h3M645 731.5h1M846 731.5h1M70 732.5h3M145 732.5h8M157 732.5h2M313 732.5h2M320 732.5h6M363 732.5h2M398 732.5h1M458 732.5h1M588 732.5h2M611 732.5h1M633 732.5h2M641 732.5h4M847 732.5h1M68 733.5h2M153 733.5h4M315 733.5h5M326 733.5h4M361 733.5h2M365 733.5h1M398 733.5h1M459 733.5h1M587 733.5h1M590 733.5h3M610 733.5h1M635 733.5h6M848 733.5h1M67 734.5h1M330 734.5h24M358 734.5h3M365 734.5h1M397 734.5h1M460 734.5h10M587 734.5h1M593 734.5h2M609 734.5h1M849 734.5h1M66 735.5h1M354 735.5h4M366 735.5h1M397 735.5h1M470 735.5h3M586 735.5h1M595 735.5h3M607 735.5h2M849 735.5h1M66 736.5h1M367 736.5h1M380 736.5h3M395 736.5h2M473 736.5h2M585 736.5h1M598 736.5h3M606 736.5h1M850 736.5h1M1092 736.5h15M65 737.5h1M368 737.5h1M379 737.5h1M383 737.5h4M391 737.5h4M475 737.5h11M585 737.5h1M601 737.5h2M605 737.5h1M851 737.5h1M924 737.5h1M979 737.5h3M1091 737.5h1M1107 737.5h4M64 738.5h1M368 738.5h1M378 738.5h1M387 738.5h4M486 738.5h3M584 738.5h1M603 738.5h2M852 738.5h1M899 738.5h6M923 738.5h1M925 738.5h2M977 738.5h2M982 738.5h3M1091 738.5h1M1111 738.5h4M36 739.5h18M63 739.5h1M369 739.5h1M377 739.5h1M489 739.5h2M583 739.5h1M853 739.5h1M895 739.5h4M905 739.5h4M922 739.5h1M927 739.5h2M974 739.5h3M985 739.5h2M1090 739.5h1M1115 739.5h2M36 740.5h1M54 740.5h2M62 740.5h1M370 740.5h1M375 740.5h2M491 740.5h2M583 740.5h1M854 740.5h2M892 740.5h3M909 740.5h2M921 740.5h1M929 740.5h1M972 740.5h2M987 740.5h2M1089 740.5h1M35 741.5h1M56 741.5h2M62 741.5h1M371 741.5h1M374 741.5h1M493 741.5h2M582 741.5h1M856 741.5h2M890 741.5h2M911 741.5h2M919 741.5h2M930 741.5h2M971 741.5h1M989 741.5h1M1088 741.5h1M4 742.5h1M35 742.5h1M58 742.5h2M61 742.5h1M371 742.5h1M373 742.5h1M495 742.5h2M571 742.5h4M581 742.5h1M858 742.5h1M889 742.5h1M913 742.5h1M918 742.5h1M932 742.5h1M970 742.5h1M989 742.5h1M1088 742.5h1M5 743.5h1M34 743.5h1M60 743.5h1M372 743.5h1M497 743.5h1M569 743.5h2M575 743.5h4M581 743.5h1M859 743.5h2M887 743.5h2M914 743.5h2M917 743.5h1M933 743.5h1M969 743.5h1M990 743.5h1M1087 743.5h1M6 744.5h1M34 744.5h1M498 744.5h2M566 744.5h3M579 744.5h2M861 744.5h1M876 744.5h5M885 744.5h2M916 744.5h1M933 744.5h1M968 744.5h1M991 744.5h1M1086 744.5h1M7 745.5h1M33 745.5h1M500 745.5h1M561 745.5h5M862 745.5h1M875 745.5h1M881 745.5h4M934 745.5h1M967 745.5h1M991 745.5h1M1076 745.5h3M1085 745.5h1M8 746.5h1M33 746.5h1M501 746.5h1M555 746.5h6M863 746.5h1M875 746.5h1M935 746.5h1M966 746.5h1M992 746.5h1M1075 746.5h1M1079 746.5h4M1085 746.5h1M8 747.5h1M32 747.5h1M501 747.5h1M551 747.5h4M863 747.5h1M874 747.5h1M936 747.5h1M965 747.5h1M993 747.5h1M1073 747.5h2M1083 747.5h2M9 748.5h1M19 748.5h2M32 748.5h1M502 748.5h1M548 748.5h3M864 748.5h1M873 748.5h1M936 748.5h1M964 748.5h1M993 748.5h1M1072 748.5h1M10 749.5h1M17 749.5h2M21 749.5h1M31 749.5h1M502 749.5h1M524 749.5h5M546 749.5h2M865 749.5h1M872 749.5h1M937 749.5h1M963 749.5h1M994 749.5h1M1071 749.5h1M11 750.5h1M14 750.5h3M22 750.5h1M31 750.5h1M503 750.5h1M523 750.5h1M529 750.5h5M545 750.5h1M866 750.5h1M872 750.5h1M938 750.5h1M961 750.5h2M995 750.5h1M1069 750.5h2M12 751.5h2M23 751.5h1M30 751.5h1M504 751.5h1M522 751.5h1M534 751.5h3M543 751.5h2M867 751.5h1M871 751.5h1M939 751.5h1M960 751.5h1M995 751.5h1M1068 751.5h1M24 752.5h1M30 752.5h1M504 752.5h1M521 752.5h1M537 752.5h2M541 752.5h2M867 752.5h1M870 752.5h1M939 752.5h1M959 752.5h1M996 752.5h5M1067 752.5h1M25 753.5h1M29 753.5h1M505 753.5h1M519 753.5h2M539 753.5h2M868 753.5h1M870 753.5h1M940 753.5h2M957 753.5h2M1001 753.5h4M1066 753.5h1M26 754.5h1M29 754.5h1M506 754.5h1M518 754.5h1M869 754.5h1M942 754.5h3M955 754.5h2M1005 754.5h1M1065 754.5h1M27 755.5h2M506 755.5h1M517 755.5h1M945 755.5h2M951 755.5h4M1006 755.5h1M1064 755.5h1M28 756.5h1M507 756.5h1M515 756.5h2M947 756.5h4M1007 756.5h1M1063 756.5h1M507 757.5h1M511 757.5h4M1008 757.5h1M1062 757.5h1M508 758.5h3M1008 758.5h1M1028 758.5h2M1052 758.5h5M1061 758.5h1M1009 759.5h1M1026 759.5h2M1030 759.5h2M1051 759.5h1M1057 759.5h4M1010 760.5h1M1025 760.5h1M1032 760.5h2M1050 760.5h1M1011 761.5h1M1023 761.5h2M1034 761.5h2M1049 761.5h1M1012 762.5h5M1021 762.5h2M1036 762.5h1M1048 762.5h1M1017 763.5h4M1037 763.5h2M1048 763.5h1M1039 764.5h2M1047 764.5h1M1041 765.5h1M1046 765.5h1M1042 766.5h2M1045 766.5h1M1044 767.5h1" fill="none" stroke="#1e90ff" stroke-width="1"/>
<rect x="1420" y="32" width="2" height="1" fill="#000"/>
<rect x="1420" y="65" width="2" height="1" fill="#000"/>
<rect x="1420" y="98" width="2" height="1" fill="#000"/>
<rect x="1420" y="131" width="2" height="1" fill="#000"/>
<rect x="1420" y="164" width="2" height="1" fill="#000"/>
<rect x="1420" y="197" width="2" height="1" fill="#000"/>
<rect x="1420" y="230" width="2" height="1" fill="#000"/>
<rect x="1420" y="263" width="2" height="1" fill="#000"/>
<rect x="1420" y="296" width="2" height="1" fill="#000"/>
<rect x="1420" y="329" width="2" height="1" fill="#000"/>
<rect x="1420" y="362" width="2" height="1" fill="#000"/>
<rect x="1420" y="395" width="2" height="1" fill="#000"/>
<rect x="1420" y="428" width="2" height="1" fill="#000"/>
<rect x="1420" y="461" width="2" height="1" fill="#000"/>
<rect x="1420" y="494" width="2" height="1" fill="#000"/>
<rect x="1420" y="527" width="2" height="1" fill="#000"/>
<rect x="1420" y="560" width="2" height="1" fill="#000"/>
<rect x="1420" y="567" width="2" height="1" fill="#000"/>
<rect x="1420" y="617" width="2" height="1" fill="#000"/>
<rect x="1420" y="667" width="2" height="1" fill="#000"/>
<rect x="1420" y="672" width="2" height="1" fill="#000"/>
<rect x="1420" y="799" width="1" height="1" fill="#000"/>
<rect x="4" y="801" width="1" height="3" fill="#000"/>
<rect x="68" y="801" width="1" height="3" fill="#000"/>
<rect x="132" y="801" width="1" height="3" fill="#000"/>
<rect x="196" y="801" width="1" height="3" fill="#000"/>
<rect x="260" y="801" width="1" height="3" fill="#000"/>
<rect x="324" y="801" width="1" height="3" fill="#000"/>
<rect x="388" y="801" width="1" height="3" fill="#000"/>
<rect x="452" y="801" width="1" height="3" fill="#000"/>
<rect x="516" y="801" width="1" height="3" fill="#000"/>
<rect x="580" y="801" width="1" height="3" fill="#000"/>
<rect x="644" y="801" width="1" height="3" fill="#000"/>
<rect x="708" y="801" width="1" height="3" fill="#000"/>
<rect x="772" y="801" width="1" height="3" fill="#000"/>
<rect x="836" y="801" width="1" height="3" fill="#000"/>
<rect x="900" y="801" width="1" height="3" fill="#000"/>
<rect x="964" y="801" width="1" height="3" fill="#000"/>
<rect x="1028" y="801" width="1" height="3" fill="#000"/>
<rect x="1092" y="801" width="1" height="3" fill="#000"/>
<rect x="1421" y="295" width="39" height="11" fill="#000"/>
</g>
<text class="ax" x="1425.4" y="35.5" textLength="32.3" lengthAdjust="spacingAndGlyphs">1.02560</text>
<text class="ax" x="1425.4" y="68.5" textLength="32.3" lengthAdjust="spacingAndGlyphs">1.02220</text>
<text class="ax" x="1425.4" y="101.5" textLength="32.3" lengthAdjust="spacingAndGlyphs">1.01870</text>
<text class="ax" x="1425.4" y="134.5" textLength="32.3" lengthAdjust="spacingAndGlyphs">1.01530</text>
<text class="ax" x="1425.4" y="167.5" textLength="32.3" lengthAdjust="spacingAndGlyphs">1.01180</text>
<text class="ax" x="1425.4" y="200.5" textLength="32.3" lengthAdjust="spacingAndGlyphs">1.00840</text>
<text class="ax" x="1425.4" y="233.5" textLength="32.3" lengthAdjust="spacingAndGlyphs">1.00490</text>
<text class="ax" x="1425.4" y="266.5" textLength="32.3" lengthAdjust="spacingAndGlyphs">1.00150</text>
<text class="ax" x="1425.4" y="299.5" textLength="32.3" lengthAdjust="spacingAndGlyphs">0.99800</text>
<text class="ax" x="1425.4" y="332.5" textLength="32.3" lengthAdjust="spacingAndGlyphs">0.99460</text>
<text class="ax" x="1425.4" y="365.5" textLength="32.3" lengthAdjust="spacingAndGlyphs">0.99110</text>
<text class="ax" x="1425.4" y="398.5" textLength="32.3" lengthAdjust="spacingAndGlyphs">0.98770</text>
<text class="ax" x="1425.4" y="431.5" textLength="32.3" lengthAdjust="spacingAndGlyphs">0.98420</text>
<text class="ax" x="1425.4" y="464.5" textLength="32.3" lengthAdjust="spacingAndGlyphs">0.98080</text>
<text class="ax" x="1425.4" y="497.5" textLength="32.3" lengthAdjust="spacingAndGlyphs">0.97730</text>
<text class="ax" x="1425.4" y="530.5" textLength="32.3" lengthAdjust="spacingAndGlyphs">0.97390</text>
<text class="ax" x="1425.4" y="563.5" textLength="32.3" lengthAdjust="spacingAndGlyphs">0.97050</text>
<rect x="1421" y="295" width="39" height="11" fill="#000" shape-rendering="crispEdges"/>
<rect x="1422" y="293" width="38" height="2" fill="#fff" opacity="0"/>
<text class="ax" x="1425" y="303.5" textLength="33" lengthAdjust="spacingAndGlyphs" style="fill:#fff;stroke:#fff">0.99760</text>
<text class="ax" x="1423.5" y="575.6" textLength="38.5" lengthAdjust="spacingAndGlyphs">0.006058</text>
<text class="ax" x="1423.5" y="620.6" textLength="17" lengthAdjust="spacingAndGlyphs">0.00</text>
<text class="ax" x="1423.5" y="664.6" textLength="40" lengthAdjust="spacingAndGlyphs">-0.006096</text>
<text class="ax" x="1423.2" y="680.6" textLength="14.3" lengthAdjust="spacingAndGlyphs">100</text>
<text class="ax" x="1422.5" y="713.6" textLength="9.4" lengthAdjust="spacingAndGlyphs">70</text>
<text class="ax" x="1422.5" y="764.6" textLength="9.4" lengthAdjust="spacingAndGlyphs">30</text>
<text class="ax" x="1423.2" y="796.7" textLength="4.6" lengthAdjust="spacingAndGlyphs">0</text>
<text class="ax" x="3" y="813" textLength="44" lengthAdjust="spacingAndGlyphs">6 Jan 2019</text>
<text class="ax" x="67" y="813" textLength="49" lengthAdjust="spacingAndGlyphs">15 Jan 2019</text>
<text class="ax" x="131" y="813" textLength="49" lengthAdjust="spacingAndGlyphs">24 Jan 2019</text>
<text class="ax" x="195" y="813" textLength="46" lengthAdjust="spacingAndGlyphs">3 Feb 2019</text>
<text class="ax" x="259" y="813" textLength="50" lengthAdjust="spacingAndGlyphs">12 Feb 2019</text>
<text class="ax" x="323" y="813" textLength="50" lengthAdjust="spacingAndGlyphs">21 Feb 2019</text>
<text class="ax" x="387" y="813" textLength="46" lengthAdjust="spacingAndGlyphs">3 Mar 2019</text>
<text class="ax" x="451" y="813" textLength="50" lengthAdjust="spacingAndGlyphs">12 Mar 2019</text>
<text class="ax" x="515" y="813" textLength="50" lengthAdjust="spacingAndGlyphs">21 Mar 2019</text>
<text class="ax" x="579" y="813" textLength="50" lengthAdjust="spacingAndGlyphs">31 Mar 2019</text>
<text class="ax" x="643" y="813" textLength="45" lengthAdjust="spacingAndGlyphs">9 Apr 2019</text>
<text class="ax" x="707" y="813" textLength="50" lengthAdjust="spacingAndGlyphs">18 Apr 2019</text>
<text class="ax" x="771" y="813" textLength="50" lengthAdjust="spacingAndGlyphs">29 Apr 2019</text>
<text class="ax" x="835" y="813" textLength="49" lengthAdjust="spacingAndGlyphs">8 May 2019</text>
<text class="ax" x="899" y="813" textLength="54" lengthAdjust="spacingAndGlyphs">17 May 2019</text>
<text class="ax" x="963" y="813" textLength="54" lengthAdjust="spacingAndGlyphs">27 May 2019</text>
<text class="ax" x="1027" y="813" textLength="44" lengthAdjust="spacingAndGlyphs">5 Jun 2019</text>
<text class="ax" x="1091" y="813" textLength="49" lengthAdjust="spacingAndGlyphs">14 Jun 2019</text>
<text class="ax" x="19.5" y="35.6" textLength="67" lengthAdjust="spacingAndGlyphs">USDCHF-,Daily</text>
<text class="ax" x="93" y="35.6" textLength="141" lengthAdjust="spacingAndGlyphs">0.99862 0.99893 0.99759 0.99760</text>
<text class="ax" x="8" y="577.5" textLength="154" lengthAdjust="spacingAndGlyphs">MACD(12,26,9) -0.002532 -0.004279</text>
<text class="ax" x="8" y="683" textLength="68" lengthAdjust="spacingAndGlyphs">RSI(14) 47.4043</text>
<g shape-rendering="crispEdges">
<rect x="0" y="821" width="1460" height="1" fill="#e3e3e3"/>
<rect x="0" y="822" width="1460" height="1" fill="#fff"/>
<rect x="0" y="823" width="1460" height="20" fill="#f0f0f0"/>
<rect x="0" y="823" width="1460" height="1" fill="#000"/>
<rect x="0" y="824" width="1" height="18" fill="#696969"/>
<rect x="1" y="824" width="1459" height="1" fill="#fcfcfc"/>
<rect x="221" y="823" width="108" height="19" fill="#fff"/>
<rect x="221" y="823" width="1" height="19" fill="#000"/>
<rect x="328" y="823" width="1" height="19" fill="#000"/>
<rect x="221" y="841" width="108" height="1" fill="#000"/>
<rect x="222" y="842" width="108" height="1" fill="#a8a8a8"/>
<rect x="113" y="827" width="1" height="13" fill="#808080"/>
<rect x="438" y="827" width="1" height="13" fill="#808080"/>
<rect x="549" y="827" width="1" height="13" fill="#808080"/>
<rect x="669" y="827" width="1" height="13" fill="#808080"/>
<polygon points="1438,829 1438,836 1434.5,832.5" fill="#9a9a9a" shape-rendering="auto"/>
<polygon points="1454,829 1454,836 1457.5,832.5" fill="#9a9a9a" shape-rendering="auto"/>
</g>
<text class="tab" x="16" y="838" textLength="85" lengthAdjust="spacingAndGlyphs">EURUSD-,Daily</text>
<text class="tab" x="123" y="838" textLength="87" lengthAdjust="spacingAndGlyphs">AUDUSD-,Daily</text>
<text class="taba" x="233" y="838" textLength="84" lengthAdjust="spacingAndGlyphs">USDCHF-,Daily</text>
<text class="tab" x="340" y="838" textLength="86" lengthAdjust="spacingAndGlyphs">USDCAD-,Daily</text>
<text class="tab" x="449" y="838" textLength="88" lengthAdjust="spacingAndGlyphs">USDCNH-,Daily</text>
<text class="tab" x="560" y="838" textLength="97" lengthAdjust="spacingAndGlyphs">EURCHF-,Weekly</text>
</svg></body></html>
